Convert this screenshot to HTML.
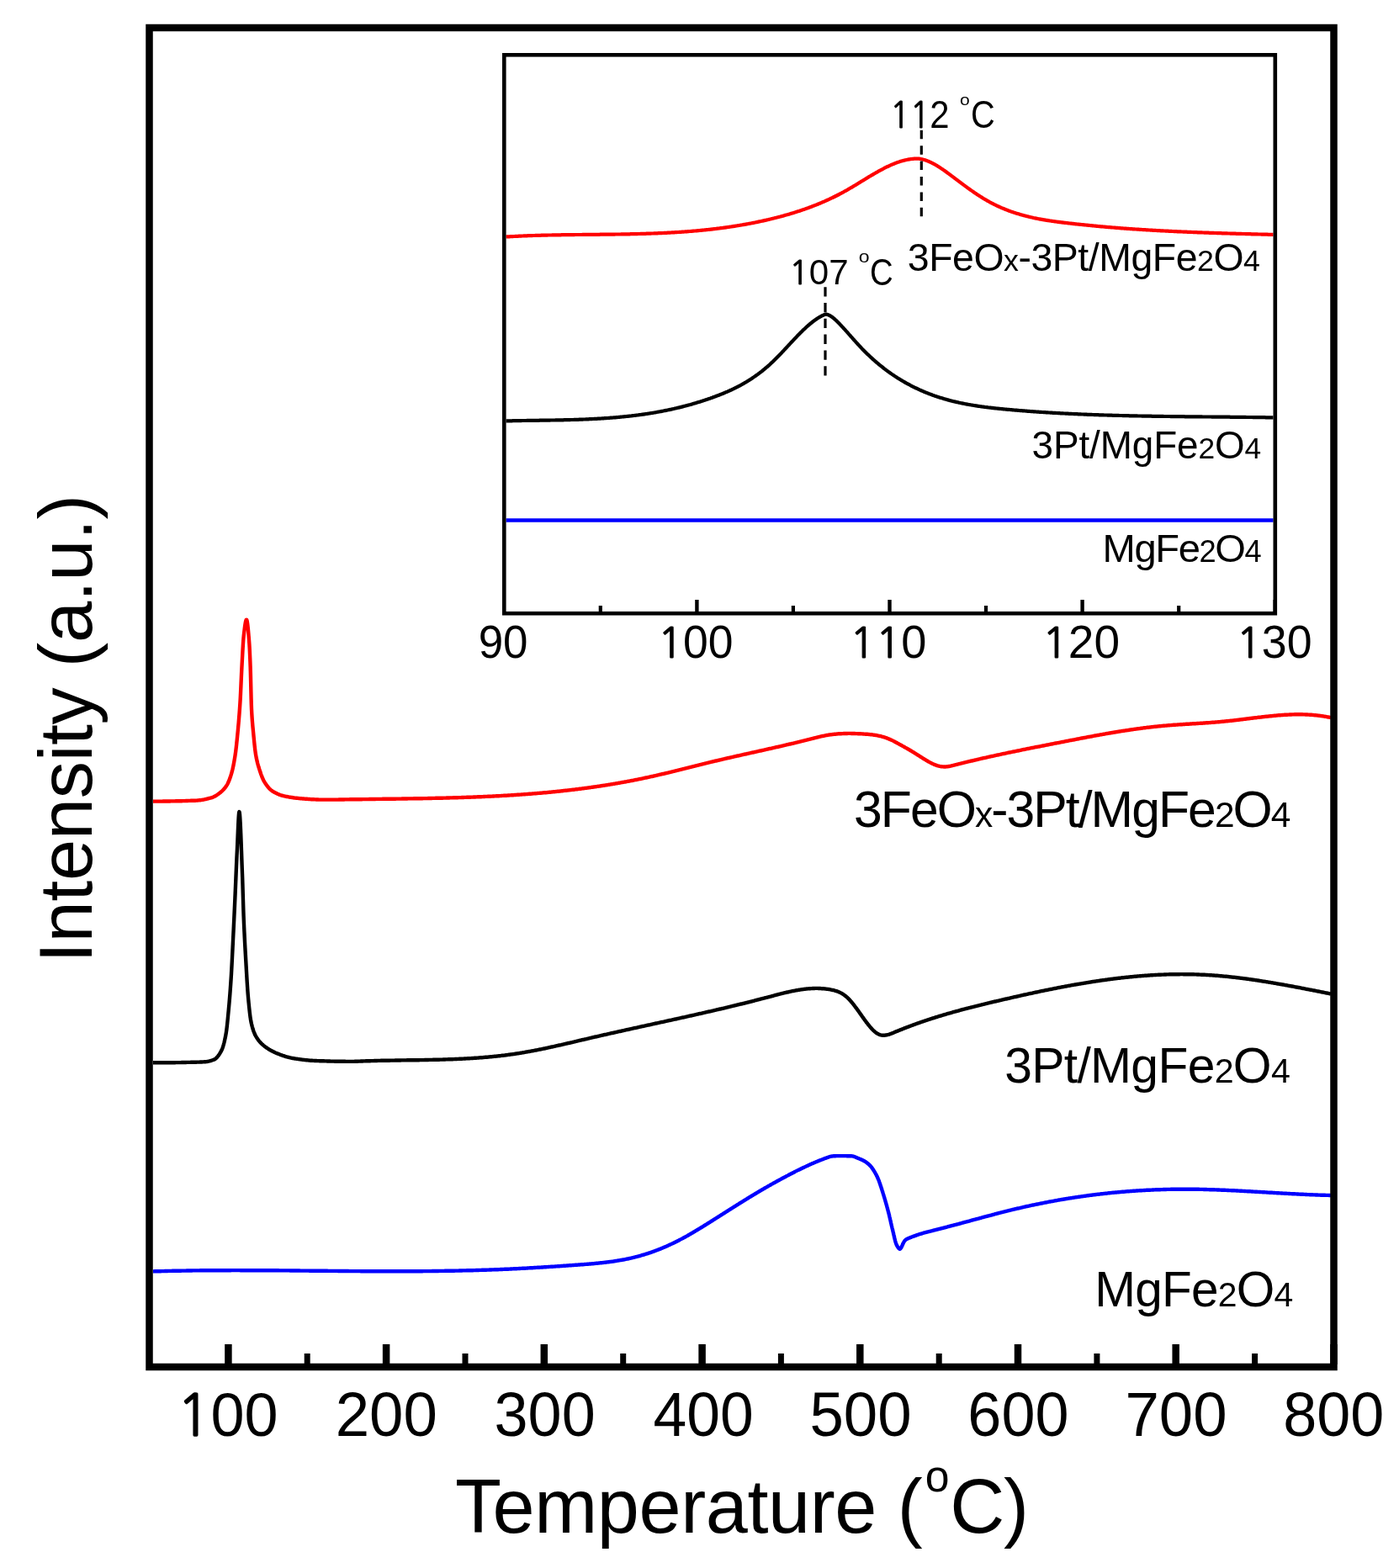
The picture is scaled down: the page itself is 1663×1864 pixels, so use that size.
<!DOCTYPE html>
<html><head><meta charset="utf-8"><title>H2-TPR profiles</title>
<style>html,body{margin:0;padding:0;background:#fff;overflow:hidden;}svg{display:block;}</style>
</head><body>
<svg width="1663" height="1864" viewBox="0 0 1663 1864" font-family="Liberation Sans, Arial, sans-serif">
<rect width="100%" height="100%" fill="#fff"/>
<path d="M182.0,952.6 L183.0,952.6 L184.0,952.6 L185.0,952.6 L186.0,952.6 L187.0,952.6 L188.0,952.6 L189.0,952.6 L190.0,952.6 L191.0,952.6 L192.0,952.6 L193.0,952.6 L194.0,952.5 L195.0,952.5 L196.0,952.5 L197.0,952.5 L198.0,952.5 L199.0,952.5 L200.0,952.5 L201.0,952.5 L202.0,952.5 L203.0,952.4 L204.0,952.4 L205.0,952.4 L206.0,952.4 L207.0,952.4 L208.0,952.4 L209.0,952.3 L210.0,952.3 L211.0,952.3 L212.0,952.3 L213.0,952.2 L214.0,952.2 L215.0,952.2 L216.0,952.2 L217.0,952.1 L218.0,952.1 L219.0,952.1 L220.0,952.1 L221.0,952.0 L222.0,952.0 L223.0,952.0 L224.0,951.9 L225.0,951.9 L226.0,951.9 L227.0,951.8 L228.0,951.8 L229.0,951.8 L230.0,951.7 L231.0,951.7 L232.0,951.7 L233.0,951.6 L234.0,951.6 L235.0,951.5 L236.0,951.4 L237.0,951.3 L238.0,951.2 L239.0,951.1 L240.0,950.9 L241.0,950.8 L242.0,950.6 L243.0,950.4 L244.0,950.2 L245.0,950.0 L246.0,949.7 L247.0,949.5 L248.0,949.2 L249.0,948.9 L250.0,948.7 L251.0,948.4 L252.0,948.1 L253.0,947.7 L254.0,947.3 L255.0,946.8 L256.0,946.3 L257.0,945.7 L258.0,945.0 L259.0,944.3 L260.0,943.6 L261.0,942.8 L262.0,942.1 L263.0,941.2 L264.0,940.3 L265.0,939.3 L266.0,938.2 L267.0,937.1 L268.0,935.8 L269.0,934.4 L270.0,932.8 L270.2,932.4 L270.4,932.1 L270.6,931.7 L270.8,931.3 L271.0,930.9 L271.2,930.5 L271.4,930.0 L271.6,929.6 L271.8,929.1 L272.0,928.6 L272.2,928.1 L272.4,927.6 L272.6,927.1 L272.8,926.6 L273.0,926.1 L273.2,925.5 L273.4,924.9 L273.6,924.4 L273.8,923.8 L274.0,923.2 L274.2,922.6 L274.4,921.9 L274.6,921.3 L274.8,920.7 L275.0,920.0 L275.2,919.3 L275.4,918.7 L275.6,917.9 L275.8,917.2 L276.0,916.4 L276.2,915.6 L276.4,914.8 L276.6,913.9 L276.8,913.0 L277.0,912.1 L277.2,911.2 L277.4,910.2 L277.6,909.2 L277.8,908.1 L278.0,907.1 L278.2,906.0 L278.4,904.8 L278.6,903.7 L278.8,902.5 L279.0,901.3 L279.2,900.1 L279.4,898.8 L279.6,897.5 L279.8,896.1 L280.0,894.7 L280.2,893.2 L280.4,891.6 L280.6,889.9 L280.8,888.2 L281.0,886.4 L281.2,884.5 L281.4,882.6 L281.6,880.7 L281.8,878.7 L282.0,876.7 L282.2,874.6 L282.4,872.5 L282.6,870.5 L282.8,868.4 L283.0,866.2 L283.2,864.0 L283.4,861.8 L283.6,859.6 L283.8,857.2 L284.0,854.8 L284.2,852.3 L284.4,849.8 L284.6,847.1 L284.8,844.4 L285.0,841.5 L285.2,838.6 L285.4,835.5 L285.6,832.1 L285.8,828.4 L286.0,824.3 L286.2,820.0 L286.4,815.5 L286.6,811.0 L286.8,806.5 L287.0,802.1 L287.2,797.9 L287.4,793.9 L287.6,790.2 L287.8,786.4 L288.0,782.6 L288.2,778.8 L288.4,775.0 L288.6,771.4 L288.8,768.0 L289.0,764.7 L289.2,761.8 L289.4,759.2 L289.6,757.0 L289.8,755.1 L290.0,753.3 L290.2,751.6 L290.4,749.9 L290.6,748.2 L290.8,746.6 L291.0,745.1 L291.2,743.6 L291.4,742.3 L291.6,741.1 L291.8,740.0 L292.0,739.0 L292.2,738.2 L292.4,737.5 L292.6,737.0 L292.8,736.7 L293.0,736.6 L293.2,736.7 L293.4,737.2 L293.6,737.9 L293.8,738.8 L294.0,740.0 L294.2,741.4 L294.4,743.0 L294.6,744.8 L294.8,746.7 L295.0,748.8 L295.2,751.0 L295.4,753.2 L295.6,755.6 L295.8,758.0 L296.0,760.5 L296.2,763.0 L296.4,765.8 L296.6,769.1 L296.8,773.0 L297.0,777.3 L297.2,781.9 L297.4,786.8 L297.6,792.0 L297.8,798.2 L298.0,805.8 L298.2,814.2 L298.4,822.7 L298.6,830.7 L298.8,837.6 L299.0,842.7 L299.2,846.5 L299.4,849.9 L299.6,853.0 L299.8,855.8 L300.0,858.4 L300.2,860.8 L300.4,863.1 L300.6,865.2 L300.8,867.3 L301.0,869.4 L301.2,871.5 L301.4,873.6 L301.6,875.8 L301.8,877.9 L302.0,879.9 L302.2,882.0 L302.4,883.9 L302.6,885.9 L302.8,887.7 L303.0,889.5 L303.2,891.2 L303.4,892.8 L303.6,894.3 L303.8,895.6 L304.0,896.9 L304.2,898.1 L304.4,899.2 L304.6,900.2 L304.8,901.2 L305.0,902.2 L305.2,903.1 L305.4,904.0 L305.6,904.9 L305.8,905.7 L306.0,906.6 L306.2,907.3 L306.4,908.1 L306.6,908.8 L306.8,909.6 L307.0,910.3 L307.2,910.9 L307.4,911.6 L307.6,912.3 L307.8,912.9 L308.0,913.5 L308.2,914.2 L308.4,914.8 L308.6,915.4 L308.8,916.0 L309.0,916.6 L309.2,917.3 L309.4,917.9 L309.6,918.4 L309.8,919.0 L310.0,919.6 L310.2,920.2 L310.4,920.7 L310.6,921.3 L310.8,921.8 L311.0,922.4 L311.2,922.9 L311.4,923.4 L311.6,923.9 L311.8,924.4 L312.0,924.9 L312.2,925.3 L312.4,925.8 L312.6,926.2 L312.8,926.7 L313.0,927.1 L313.2,927.5 L313.4,927.9 L313.6,928.3 L313.8,928.6 L314.0,929.0 L314.2,929.3 L314.4,929.6 L314.6,929.9 L314.8,930.3 L315.0,930.6 L315.2,930.9 L315.4,931.2 L315.6,931.5 L315.8,931.8 L316.0,932.1 L316.2,932.4 L316.4,932.7 L316.6,932.9 L316.8,933.2 L317.0,933.5 L317.2,933.8 L317.4,934.0 L317.6,934.3 L317.8,934.6 L318.0,934.8 L318.2,935.1 L318.4,935.3 L318.6,935.6 L318.8,935.8 L319.0,936.0 L319.2,936.3 L319.4,936.5 L319.6,936.7 L319.8,936.9 L320.0,937.2 L321.0,938.2 L322.0,939.1 L323.0,939.9 L324.0,940.6 L325.0,941.2 L326.0,941.8 L327.0,942.3 L328.0,942.8 L329.0,943.3 L330.0,943.8 L331.0,944.2 L332.0,944.6 L333.0,945.0 L334.0,945.3 L335.0,945.6 L336.0,945.9 L337.0,946.2 L338.0,946.4 L339.0,946.6 L340.0,946.8 L341.0,947.0 L342.0,947.2 L343.0,947.4 L344.0,947.6 L345.0,947.7 L346.0,947.9 L347.0,948.0 L348.0,948.2 L349.0,948.3 L350.0,948.5 L351.0,948.6 L352.0,948.7 L353.0,948.8 L354.0,948.9 L355.0,949.0 L356.0,949.1 L357.0,949.2 L358.0,949.3 L359.0,949.4 L360.0,949.5 L361.0,949.5 L362.0,949.6 L363.0,949.7 L364.0,949.8 L365.0,949.8 L366.0,949.9 L367.0,950.0 L368.0,950.0 L369.0,950.1 L370.0,950.2 L371.0,950.2 L372.0,950.3 L373.0,950.3 L374.0,950.4 L375.0,950.4 L376.0,950.5 L377.0,950.5 L378.0,950.5 L379.0,950.6 L380.0,950.6 L381.0,950.6 L382.0,950.6 L383.0,950.6 L384.0,950.6 L385.0,950.6 L386.0,950.6 L387.0,950.6 L388.0,950.6 L389.0,950.6 L390.0,950.6 L391.0,950.6 L392.0,950.6 L393.0,950.6 L394.0,950.6 L395.0,950.6 L396.0,950.6 L397.0,950.6 L398.0,950.6 L399.0,950.6 L400.0,950.6 L401.0,950.6 L402.0,950.6 L403.0,950.5 L404.0,950.5 L405.0,950.5 L406.0,950.5 L407.0,950.5 L408.0,950.5 L409.0,950.5 L410.0,950.4 L411.0,950.4 L412.0,950.4 L413.0,950.4 L414.0,950.4 L415.0,950.4 L416.0,950.3 L417.0,950.3 L418.0,950.3 L419.0,950.3 L420.0,950.3 L421.0,950.3 L422.0,950.3 L423.0,950.3 L424.0,950.2 L425.0,950.2 L426.0,950.2 L427.0,950.2 L428.0,950.2 L429.0,950.2 L430.0,950.2 L431.0,950.1 L432.0,950.1 L433.0,950.1 L434.0,950.1 L435.0,950.1 L436.0,950.1 L437.0,950.1 L438.0,950.1 L439.0,950.0 L440.0,950.0 L441.0,950.0 L442.0,950.0 L443.0,950.0 L444.0,950.0 L445.0,950.0 L446.0,950.0 L447.0,949.9 L448.0,949.9 L449.0,949.9 L450.0,949.9 L451.0,949.9 L452.0,949.9 L453.0,949.9 L454.0,949.9 L455.0,949.8 L456.0,949.8 L457.0,949.8 L458.0,949.8 L459.0,949.8 L460.0,949.8 L461.0,949.8 L462.0,949.8 L463.0,949.7 L464.0,949.7 L465.0,949.7 L466.0,949.7 L467.0,949.7 L468.0,949.7 L469.0,949.7 L470.0,949.7 L471.0,949.6 L472.0,949.6 L473.0,949.6 L474.0,949.6 L475.0,949.6 L476.0,949.6 L477.0,949.6 L478.0,949.5 L479.0,949.5 L480.0,949.5 L481.0,949.5 L482.0,949.5 L483.0,949.5 L484.0,949.5 L485.0,949.4 L486.0,949.4 L487.0,949.4 L488.0,949.4 L489.0,949.4 L490.0,949.4 L491.0,949.4 L492.0,949.3 L493.0,949.3 L494.0,949.3 L495.0,949.3 L496.0,949.3 L497.0,949.3 L498.0,949.2 L499.0,949.2 L500.0,949.2 L501.0,949.2 L502.0,949.2 L503.0,949.1 L504.0,949.1 L505.0,949.1 L506.0,949.1 L507.0,949.1 L508.0,949.1 L509.0,949.0 L510.0,949.0 L511.0,949.0 L512.0,949.0 L513.0,949.0 L514.0,948.9 L515.0,948.9 L516.0,948.9 L517.0,948.9 L518.0,948.8 L519.0,948.8 L520.0,948.8 L521.0,948.8 L522.0,948.8 L523.0,948.7 L524.0,948.7 L525.0,948.7 L526.0,948.7 L527.0,948.6 L528.0,948.6 L529.0,948.6 L530.0,948.6 L531.0,948.5 L532.0,948.5 L533.0,948.5 L534.0,948.5 L535.0,948.4 L536.0,948.4 L537.0,948.4 L538.0,948.4 L539.0,948.3 L540.0,948.3 L541.0,948.3 L542.0,948.2 L543.0,948.2 L544.0,948.2 L545.0,948.1 L546.0,948.1 L547.0,948.1 L548.0,948.1 L549.0,948.0 L550.0,948.0 L551.0,948.0 L552.0,947.9 L553.0,947.9 L554.0,947.9 L555.0,947.8 L556.0,947.8 L557.0,947.8 L558.0,947.7 L559.0,947.7 L560.0,947.6 L561.0,947.6 L562.0,947.6 L563.0,947.5 L564.0,947.5 L565.0,947.5 L566.0,947.4 L567.0,947.4 L568.0,947.3 L569.0,947.3 L570.0,947.3 L571.0,947.2 L572.0,947.2 L573.0,947.1 L574.0,947.1 L575.0,947.0 L576.0,947.0 L577.0,946.9 L578.0,946.9 L579.0,946.9 L580.0,946.8 L581.0,946.8 L582.0,946.7 L583.0,946.7 L584.0,946.6 L585.0,946.6 L586.0,946.5 L587.0,946.5 L588.0,946.4 L589.0,946.4 L590.0,946.3 L591.0,946.3 L592.0,946.2 L593.0,946.2 L594.0,946.1 L595.0,946.1 L596.0,946.0 L597.0,945.9 L598.0,945.9 L599.0,945.8 L600.0,945.8 L601.0,945.7 L602.0,945.7 L603.0,945.6 L604.0,945.5 L605.0,945.5 L606.0,945.4 L607.0,945.4 L608.0,945.3 L609.0,945.2 L610.0,945.2 L611.0,945.1 L612.0,945.0 L613.0,945.0 L614.0,944.9 L615.0,944.8 L616.0,944.8 L617.0,944.7 L618.0,944.6 L619.0,944.6 L620.0,944.5 L621.0,944.4 L622.0,944.4 L623.0,944.3 L624.0,944.2 L625.0,944.1 L626.0,944.1 L627.0,944.0 L628.0,943.9 L629.0,943.8 L630.0,943.8 L631.0,943.7 L632.0,943.6 L633.0,943.5 L634.0,943.4 L635.0,943.4 L636.0,943.3 L637.0,943.2 L638.0,943.1 L639.0,943.0 L640.0,942.9 L641.0,942.9 L642.0,942.8 L643.0,942.7 L644.0,942.6 L645.0,942.5 L646.0,942.4 L647.0,942.3 L648.0,942.2 L649.0,942.2 L650.0,942.1 L651.0,942.0 L652.0,941.9 L653.0,941.8 L654.0,941.7 L655.0,941.6 L656.0,941.5 L657.0,941.4 L658.0,941.3 L659.0,941.2 L660.0,941.1 L661.0,941.0 L662.0,940.9 L663.0,940.8 L664.0,940.7 L665.0,940.6 L666.0,940.5 L667.0,940.4 L668.0,940.3 L669.0,940.2 L670.0,940.0 L671.0,939.9 L672.0,939.8 L673.0,939.7 L674.0,939.6 L675.0,939.5 L676.0,939.4 L677.0,939.3 L678.0,939.1 L679.0,939.0 L680.0,938.9 L681.0,938.8 L682.0,938.7 L683.0,938.6 L684.0,938.4 L685.0,938.3 L686.0,938.2 L687.0,938.1 L688.0,937.9 L689.0,937.8 L690.0,937.7 L691.0,937.6 L692.0,937.4 L693.0,937.3 L694.0,937.2 L695.0,937.0 L696.0,936.9 L697.0,936.8 L698.0,936.6 L699.0,936.5 L700.0,936.4 L701.0,936.2 L702.0,936.1 L703.0,935.9 L704.0,935.8 L705.0,935.7 L706.0,935.5 L707.0,935.4 L708.0,935.2 L709.0,935.1 L710.0,934.9 L711.0,934.8 L712.0,934.6 L713.0,934.5 L714.0,934.3 L715.0,934.2 L716.0,934.0 L717.0,933.9 L718.0,933.7 L719.0,933.6 L720.0,933.4 L721.0,933.3 L722.0,933.1 L723.0,932.9 L724.0,932.8 L725.0,932.6 L726.0,932.4 L727.0,932.3 L728.0,932.1 L729.0,931.9 L730.0,931.8 L731.0,931.6 L732.0,931.4 L733.0,931.3 L734.0,931.1 L735.0,930.9 L736.0,930.7 L737.0,930.6 L738.0,930.4 L739.0,930.2 L740.0,930.0 L741.0,929.9 L742.0,929.7 L743.0,929.5 L744.0,929.3 L745.0,929.1 L746.0,928.9 L747.0,928.7 L748.0,928.6 L749.0,928.4 L750.0,928.2 L751.0,928.0 L752.0,927.8 L753.0,927.6 L754.0,927.4 L755.0,927.2 L756.0,927.0 L757.0,926.8 L758.0,926.6 L759.0,926.4 L760.0,926.2 L761.0,926.0 L762.0,925.8 L763.0,925.6 L764.0,925.4 L765.0,925.2 L766.0,924.9 L767.0,924.7 L768.0,924.5 L769.0,924.3 L770.0,924.1 L771.0,923.9 L772.0,923.7 L773.0,923.4 L774.0,923.2 L775.0,923.0 L776.0,922.8 L777.0,922.5 L778.0,922.3 L779.0,922.1 L780.0,921.9 L781.0,921.6 L782.0,921.4 L783.0,921.2 L784.0,920.9 L785.0,920.7 L786.0,920.5 L787.0,920.2 L788.0,920.0 L789.0,919.8 L790.0,919.5 L791.0,919.3 L792.0,919.0 L793.0,918.8 L794.0,918.6 L795.0,918.3 L796.0,918.1 L797.0,917.8 L798.0,917.6 L799.0,917.3 L800.0,917.1 L801.0,916.9 L802.0,916.6 L803.0,916.4 L804.0,916.1 L805.0,915.9 L806.0,915.6 L807.0,915.4 L808.0,915.1 L809.0,914.9 L810.0,914.6 L811.0,914.4 L812.0,914.1 L813.0,913.9 L814.0,913.6 L815.0,913.4 L816.0,913.1 L817.0,912.9 L818.0,912.6 L819.0,912.4 L820.0,912.1 L821.0,911.9 L822.0,911.6 L823.0,911.4 L824.0,911.1 L825.0,910.9 L826.0,910.6 L827.0,910.4 L828.0,910.1 L829.0,909.9 L830.0,909.6 L831.0,909.4 L832.0,909.1 L833.0,908.9 L834.0,908.6 L835.0,908.4 L836.0,908.1 L837.0,907.9 L838.0,907.6 L839.0,907.4 L840.0,907.2 L841.0,906.9 L842.0,906.7 L843.0,906.4 L844.0,906.2 L845.0,905.9 L846.0,905.7 L847.0,905.5 L848.0,905.2 L849.0,905.0 L850.0,904.7 L851.0,904.5 L852.0,904.3 L853.0,904.0 L854.0,903.8 L855.0,903.5 L856.0,903.3 L857.0,903.1 L858.0,902.8 L859.0,902.6 L860.0,902.4 L861.0,902.2 L862.0,901.9 L863.0,901.7 L864.0,901.5 L865.0,901.2 L866.0,901.0 L867.0,900.8 L868.0,900.5 L869.0,900.3 L870.0,900.1 L871.0,899.9 L872.0,899.6 L873.0,899.4 L874.0,899.2 L875.0,899.0 L876.0,898.7 L877.0,898.5 L878.0,898.3 L879.0,898.1 L880.0,897.8 L881.0,897.6 L882.0,897.4 L883.0,897.2 L884.0,896.9 L885.0,896.7 L886.0,896.5 L887.0,896.3 L888.0,896.0 L889.0,895.8 L890.0,895.6 L891.0,895.4 L892.0,895.2 L893.0,894.9 L894.0,894.7 L895.0,894.5 L896.0,894.3 L897.0,894.0 L898.0,893.8 L899.0,893.6 L900.0,893.4 L901.0,893.2 L902.0,892.9 L903.0,892.7 L904.0,892.5 L905.0,892.3 L906.0,892.0 L907.0,891.8 L908.0,891.6 L909.0,891.4 L910.0,891.1 L911.0,890.9 L912.0,890.7 L913.0,890.5 L914.0,890.2 L915.0,890.0 L916.0,889.8 L917.0,889.6 L918.0,889.3 L919.0,889.1 L920.0,888.9 L921.0,888.7 L922.0,888.4 L923.0,888.2 L924.0,888.0 L925.0,887.8 L926.0,887.5 L927.0,887.3 L928.0,887.1 L929.0,886.8 L930.0,886.6 L931.0,886.4 L932.0,886.1 L933.0,885.9 L934.0,885.7 L935.0,885.4 L936.0,885.2 L937.0,885.0 L938.0,884.7 L939.0,884.5 L940.0,884.3 L941.0,884.0 L942.0,883.8 L943.0,883.6 L944.0,883.3 L945.0,883.1 L946.0,882.8 L947.0,882.6 L948.0,882.4 L949.0,882.1 L950.0,881.9 L951.0,881.6 L952.0,881.4 L953.0,881.1 L954.0,880.9 L955.0,880.6 L956.0,880.4 L957.0,880.1 L958.0,879.9 L959.0,879.6 L960.0,879.4 L961.0,879.1 L962.0,878.9 L963.0,878.6 L964.0,878.4 L965.0,878.1 L966.0,877.9 L967.0,877.6 L968.0,877.3 L969.0,877.1 L970.0,876.9 L971.0,876.6 L972.0,876.4 L973.0,876.1 L974.0,875.9 L975.0,875.7 L976.0,875.4 L977.0,875.2 L978.0,875.0 L979.0,874.8 L980.0,874.6 L981.0,874.4 L982.0,874.2 L983.0,874.0 L984.0,873.9 L985.0,873.7 L986.0,873.5 L987.0,873.4 L988.0,873.3 L989.0,873.1 L990.0,873.0 L991.0,872.9 L992.0,872.8 L993.0,872.7 L994.0,872.6 L995.0,872.5 L996.0,872.4 L997.0,872.3 L998.0,872.3 L999.0,872.2 L1000.0,872.2 L1001.0,872.1 L1002.0,872.1 L1003.0,872.0 L1004.0,872.0 L1005.0,872.0 L1006.0,872.0 L1007.0,872.0 L1008.0,871.9 L1009.0,871.9 L1010.0,871.9 L1011.0,871.9 L1012.0,872.0 L1013.0,872.0 L1014.0,872.0 L1015.0,872.0 L1016.0,872.0 L1017.0,872.1 L1018.0,872.1 L1019.0,872.1 L1020.0,872.2 L1021.0,872.2 L1022.0,872.3 L1023.0,872.3 L1024.0,872.4 L1025.0,872.4 L1026.0,872.5 L1027.0,872.6 L1028.0,872.6 L1029.0,872.7 L1030.0,872.8 L1031.0,872.8 L1032.0,872.9 L1033.0,873.0 L1034.0,873.1 L1035.0,873.2 L1036.0,873.3 L1037.0,873.4 L1038.0,873.6 L1039.0,873.7 L1040.0,873.9 L1041.0,874.0 L1042.0,874.2 L1043.0,874.4 L1044.0,874.6 L1045.0,874.8 L1046.0,875.0 L1047.0,875.2 L1048.0,875.5 L1049.0,875.8 L1050.0,876.0 L1051.0,876.3 L1052.0,876.7 L1053.0,877.0 L1054.0,877.4 L1055.0,877.8 L1056.0,878.2 L1057.0,878.6 L1058.0,879.0 L1059.0,879.5 L1060.0,879.9 L1061.0,880.4 L1062.0,880.9 L1063.0,881.4 L1064.0,882.0 L1065.0,882.5 L1066.0,883.0 L1067.0,883.6 L1068.0,884.1 L1069.0,884.7 L1070.0,885.2 L1071.0,885.8 L1072.0,886.3 L1073.0,886.9 L1074.0,887.4 L1075.0,888.0 L1076.0,888.6 L1077.0,889.1 L1078.0,889.7 L1079.0,890.3 L1080.0,890.8 L1081.0,891.4 L1082.0,892.0 L1083.0,892.6 L1084.0,893.2 L1085.0,893.8 L1086.0,894.4 L1087.0,895.0 L1088.0,895.7 L1089.0,896.3 L1090.0,896.9 L1091.0,897.6 L1092.0,898.2 L1093.0,898.8 L1094.0,899.5 L1095.0,900.1 L1096.0,900.7 L1097.0,901.4 L1098.0,902.0 L1099.0,902.6 L1100.0,903.2 L1101.0,903.8 L1102.0,904.4 L1103.0,905.0 L1104.0,905.6 L1105.0,906.1 L1106.0,906.6 L1107.0,907.2 L1108.0,907.6 L1109.0,908.1 L1110.0,908.6 L1111.0,909.0 L1112.0,909.4 L1113.0,909.7 L1114.0,910.1 L1115.0,910.4 L1116.0,910.6 L1117.0,910.9 L1118.0,911.1 L1119.0,911.2 L1120.0,911.4 L1121.0,911.4 L1122.0,911.5 L1123.0,911.5 L1124.0,911.5 L1125.0,911.4 L1126.0,911.3 L1127.0,911.2 L1128.0,911.0 L1129.0,910.8 L1130.0,910.6 L1131.0,910.4 L1132.0,910.1 L1133.0,909.9 L1134.0,909.6 L1135.0,909.4 L1136.0,909.1 L1137.0,908.9 L1138.0,908.6 L1139.0,908.4 L1140.0,908.1 L1141.0,907.9 L1142.0,907.6 L1143.0,907.4 L1144.0,907.1 L1145.0,906.9 L1146.0,906.6 L1147.0,906.4 L1148.0,906.2 L1149.0,905.9 L1150.0,905.7 L1151.0,905.4 L1152.0,905.2 L1153.0,905.0 L1154.0,904.7 L1155.0,904.5 L1156.0,904.3 L1157.0,904.0 L1158.0,903.8 L1159.0,903.5 L1160.0,903.3 L1161.0,903.1 L1162.0,902.8 L1163.0,902.6 L1164.0,902.4 L1165.0,902.2 L1166.0,901.9 L1167.0,901.7 L1168.0,901.5 L1169.0,901.2 L1170.0,901.0 L1171.0,900.8 L1172.0,900.6 L1173.0,900.3 L1174.0,900.1 L1175.0,899.9 L1176.0,899.7 L1177.0,899.5 L1178.0,899.2 L1179.0,899.0 L1180.0,898.8 L1181.0,898.6 L1182.0,898.4 L1183.0,898.1 L1184.0,897.9 L1185.0,897.7 L1186.0,897.5 L1187.0,897.3 L1188.0,897.1 L1189.0,896.9 L1190.0,896.6 L1191.0,896.4 L1192.0,896.2 L1193.0,896.0 L1194.0,895.8 L1195.0,895.6 L1196.0,895.4 L1197.0,895.2 L1198.0,894.9 L1199.0,894.7 L1200.0,894.5 L1201.0,894.3 L1202.0,894.1 L1203.0,893.9 L1204.0,893.7 L1205.0,893.5 L1206.0,893.3 L1207.0,893.1 L1208.0,892.9 L1209.0,892.7 L1210.0,892.5 L1211.0,892.3 L1212.0,892.1 L1213.0,891.9 L1214.0,891.6 L1215.0,891.4 L1216.0,891.2 L1217.0,891.0 L1218.0,890.8 L1219.0,890.6 L1220.0,890.4 L1221.0,890.2 L1222.0,890.0 L1223.0,889.8 L1224.0,889.6 L1225.0,889.4 L1226.0,889.2 L1227.0,889.0 L1228.0,888.8 L1229.0,888.6 L1230.0,888.4 L1231.0,888.2 L1232.0,888.0 L1233.0,887.8 L1234.0,887.6 L1235.0,887.5 L1236.0,887.3 L1237.0,887.1 L1238.0,886.9 L1239.0,886.7 L1240.0,886.5 L1241.0,886.3 L1242.0,886.1 L1243.0,885.9 L1244.0,885.7 L1245.0,885.5 L1246.0,885.3 L1247.0,885.1 L1248.0,884.9 L1249.0,884.7 L1250.0,884.5 L1251.0,884.3 L1252.0,884.1 L1253.0,883.9 L1254.0,883.7 L1255.0,883.5 L1256.0,883.3 L1257.0,883.1 L1258.0,883.0 L1259.0,882.8 L1260.0,882.6 L1261.0,882.4 L1262.0,882.2 L1263.0,882.0 L1264.0,881.8 L1265.0,881.6 L1266.0,881.4 L1267.0,881.2 L1268.0,881.0 L1269.0,880.8 L1270.0,880.6 L1271.0,880.4 L1272.0,880.2 L1273.0,880.0 L1274.0,879.8 L1275.0,879.6 L1276.0,879.5 L1277.0,879.3 L1278.0,879.1 L1279.0,878.9 L1280.0,878.7 L1281.0,878.5 L1282.0,878.3 L1283.0,878.1 L1284.0,877.9 L1285.0,877.7 L1286.0,877.5 L1287.0,877.3 L1288.0,877.2 L1289.0,877.0 L1290.0,876.8 L1291.0,876.6 L1292.0,876.4 L1293.0,876.2 L1294.0,876.0 L1295.0,875.8 L1296.0,875.6 L1297.0,875.5 L1298.0,875.3 L1299.0,875.1 L1300.0,874.9 L1301.0,874.7 L1302.0,874.5 L1303.0,874.4 L1304.0,874.2 L1305.0,874.0 L1306.0,873.8 L1307.0,873.6 L1308.0,873.4 L1309.0,873.3 L1310.0,873.1 L1311.0,872.9 L1312.0,872.7 L1313.0,872.6 L1314.0,872.4 L1315.0,872.2 L1316.0,872.0 L1317.0,871.9 L1318.0,871.7 L1319.0,871.5 L1320.0,871.3 L1321.0,871.2 L1322.0,871.0 L1323.0,870.8 L1324.0,870.7 L1325.0,870.5 L1326.0,870.3 L1327.0,870.2 L1328.0,870.0 L1329.0,869.8 L1330.0,869.7 L1331.0,869.5 L1332.0,869.4 L1333.0,869.2 L1334.0,869.0 L1335.0,868.9 L1336.0,868.7 L1337.0,868.6 L1338.0,868.4 L1339.0,868.3 L1340.0,868.1 L1341.0,868.0 L1342.0,867.8 L1343.0,867.7 L1344.0,867.5 L1345.0,867.4 L1346.0,867.2 L1347.0,867.1 L1348.0,866.9 L1349.0,866.8 L1350.0,866.6 L1351.0,866.5 L1352.0,866.4 L1353.0,866.2 L1354.0,866.1 L1355.0,866.0 L1356.0,865.8 L1357.0,865.7 L1358.0,865.6 L1359.0,865.4 L1360.0,865.3 L1361.0,865.2 L1362.0,865.1 L1363.0,864.9 L1364.0,864.8 L1365.0,864.7 L1366.0,864.6 L1367.0,864.5 L1368.0,864.4 L1369.0,864.2 L1370.0,864.1 L1371.0,864.0 L1372.0,863.9 L1373.0,863.8 L1374.0,863.7 L1375.0,863.6 L1376.0,863.5 L1377.0,863.4 L1378.0,863.3 L1379.0,863.2 L1380.0,863.1 L1381.0,863.0 L1382.0,862.9 L1383.0,862.8 L1384.0,862.7 L1385.0,862.6 L1386.0,862.6 L1387.0,862.5 L1388.0,862.4 L1389.0,862.3 L1390.0,862.2 L1391.0,862.1 L1392.0,862.1 L1393.0,862.0 L1394.0,861.9 L1395.0,861.8 L1396.0,861.8 L1397.0,861.7 L1398.0,861.6 L1399.0,861.6 L1400.0,861.5 L1401.0,861.4 L1402.0,861.4 L1403.0,861.3 L1404.0,861.2 L1405.0,861.2 L1406.0,861.1 L1407.0,861.0 L1408.0,861.0 L1409.0,860.9 L1410.0,860.8 L1411.0,860.8 L1412.0,860.7 L1413.0,860.7 L1414.0,860.6 L1415.0,860.5 L1416.0,860.5 L1417.0,860.4 L1418.0,860.3 L1419.0,860.3 L1420.0,860.2 L1421.0,860.2 L1422.0,860.1 L1423.0,860.0 L1424.0,860.0 L1425.0,859.9 L1426.0,859.9 L1427.0,859.8 L1428.0,859.7 L1429.0,859.7 L1430.0,859.6 L1431.0,859.5 L1432.0,859.5 L1433.0,859.4 L1434.0,859.3 L1435.0,859.3 L1436.0,859.2 L1437.0,859.1 L1438.0,859.1 L1439.0,859.0 L1440.0,858.9 L1441.0,858.8 L1442.0,858.8 L1443.0,858.7 L1444.0,858.6 L1445.0,858.5 L1446.0,858.4 L1447.0,858.4 L1448.0,858.3 L1449.0,858.2 L1450.0,858.1 L1451.0,858.0 L1452.0,857.9 L1453.0,857.8 L1454.0,857.7 L1455.0,857.6 L1456.0,857.5 L1457.0,857.4 L1458.0,857.3 L1459.0,857.2 L1460.0,857.1 L1461.0,857.0 L1462.0,856.9 L1463.0,856.8 L1464.0,856.7 L1465.0,856.6 L1466.0,856.5 L1467.0,856.4 L1468.0,856.2 L1469.0,856.1 L1470.0,856.0 L1471.0,855.9 L1472.0,855.8 L1473.0,855.7 L1474.0,855.5 L1475.0,855.4 L1476.0,855.3 L1477.0,855.2 L1478.0,855.0 L1479.0,854.9 L1480.0,854.8 L1481.0,854.7 L1482.0,854.5 L1483.0,854.4 L1484.0,854.3 L1485.0,854.2 L1486.0,854.0 L1487.0,853.9 L1488.0,853.8 L1489.0,853.7 L1490.0,853.5 L1491.0,853.4 L1492.0,853.3 L1493.0,853.2 L1494.0,853.1 L1495.0,852.9 L1496.0,852.8 L1497.0,852.7 L1498.0,852.6 L1499.0,852.5 L1500.0,852.3 L1501.0,852.2 L1502.0,852.1 L1503.0,852.0 L1504.0,851.9 L1505.0,851.8 L1506.0,851.7 L1507.0,851.6 L1508.0,851.5 L1509.0,851.4 L1510.0,851.3 L1511.0,851.2 L1512.0,851.1 L1513.0,851.0 L1514.0,850.9 L1515.0,850.8 L1516.0,850.7 L1517.0,850.6 L1518.0,850.5 L1519.0,850.4 L1520.0,850.3 L1521.0,850.3 L1522.0,850.2 L1523.0,850.1 L1524.0,850.0 L1525.0,850.0 L1526.0,849.9 L1527.0,849.8 L1528.0,849.8 L1529.0,849.7 L1530.0,849.7 L1531.0,849.6 L1532.0,849.6 L1533.0,849.5 L1534.0,849.5 L1535.0,849.5 L1536.0,849.4 L1537.0,849.4 L1538.0,849.4 L1539.0,849.3 L1540.0,849.3 L1541.0,849.3 L1542.0,849.3 L1543.0,849.3 L1544.0,849.3 L1545.0,849.3 L1546.0,849.3 L1547.0,849.3 L1548.0,849.3 L1549.0,849.4 L1550.0,849.4 L1551.0,849.4 L1552.0,849.5 L1553.0,849.5 L1554.0,849.5 L1555.0,849.6 L1556.0,849.6 L1557.0,849.7 L1558.0,849.8 L1559.0,849.8 L1560.0,849.9 L1561.0,850.0 L1562.0,850.1 L1563.0,850.2 L1564.0,850.3 L1565.0,850.4 L1566.0,850.5 L1567.0,850.6 L1568.0,850.7 L1569.0,850.9 L1570.0,851.0 L1571.0,851.1 L1572.0,851.3 L1573.0,851.4 L1574.0,851.6 L1575.0,851.8 L1576.0,851.9 L1577.0,852.1 L1578.0,852.3 L1579.0,852.5 L1580.0,852.7 L1581.0,852.9 L1582.0,853.1" fill="none" stroke="#ff0000" stroke-width="4.4" stroke-linejoin="round"/>
<path d="M182.0,1263.3 L183.0,1263.3 L184.0,1263.3 L185.0,1263.3 L186.0,1263.3 L187.0,1263.3 L188.0,1263.3 L189.0,1263.3 L190.0,1263.3 L191.0,1263.3 L192.0,1263.3 L193.0,1263.3 L194.0,1263.3 L195.0,1263.3 L196.0,1263.3 L197.0,1263.3 L198.0,1263.3 L199.0,1263.2 L200.0,1263.2 L201.0,1263.2 L202.0,1263.2 L203.0,1263.2 L204.0,1263.2 L205.0,1263.2 L206.0,1263.2 L207.0,1263.2 L208.0,1263.2 L209.0,1263.1 L210.0,1263.1 L211.0,1263.1 L212.0,1263.1 L213.0,1263.1 L214.0,1263.1 L215.0,1263.1 L216.0,1263.0 L217.0,1263.0 L218.0,1263.0 L219.0,1263.0 L220.0,1263.0 L221.0,1263.0 L222.0,1262.9 L223.0,1262.9 L224.0,1262.9 L225.0,1262.9 L226.0,1262.9 L227.0,1262.8 L228.0,1262.8 L229.0,1262.8 L230.0,1262.8 L231.0,1262.7 L232.0,1262.7 L233.0,1262.7 L234.0,1262.6 L235.0,1262.6 L236.0,1262.6 L237.0,1262.6 L238.0,1262.5 L239.0,1262.5 L240.0,1262.5 L241.0,1262.4 L242.0,1262.4 L243.0,1262.3 L244.0,1262.3 L245.0,1262.1 L246.0,1262.0 L247.0,1261.8 L248.0,1261.6 L249.0,1261.4 L250.0,1261.1 L251.0,1260.8 L252.0,1260.5 L253.0,1260.2 L254.0,1259.8 L255.0,1259.4 L256.0,1258.7 L257.0,1257.9 L258.0,1256.9 L259.0,1255.7 L260.0,1254.4 L261.0,1252.8 L262.0,1251.2 L262.2,1250.8 L262.4,1250.5 L262.6,1250.1 L262.8,1249.7 L263.0,1249.4 L263.2,1249.0 L263.4,1248.6 L263.6,1248.2 L263.8,1247.7 L264.0,1247.3 L264.2,1246.8 L264.4,1246.2 L264.6,1245.7 L264.8,1245.1 L265.0,1244.5 L265.2,1243.9 L265.4,1243.2 L265.6,1242.5 L265.8,1241.8 L266.0,1241.0 L266.2,1240.3 L266.4,1239.5 L266.6,1238.7 L266.8,1237.8 L267.0,1237.0 L267.2,1236.1 L267.4,1235.1 L267.6,1234.2 L267.8,1233.2 L268.0,1232.2 L268.2,1231.2 L268.4,1230.1 L268.6,1229.0 L268.8,1227.8 L269.0,1226.5 L269.2,1225.1 L269.4,1223.6 L269.6,1221.9 L269.8,1220.2 L270.0,1218.4 L270.2,1216.6 L270.4,1214.6 L270.6,1212.6 L270.8,1210.6 L271.0,1208.5 L271.2,1206.4 L271.4,1204.3 L271.6,1202.1 L271.8,1200.0 L272.0,1197.8 L272.2,1195.6 L272.4,1193.4 L272.6,1191.0 L272.8,1188.7 L273.0,1186.2 L273.2,1183.7 L273.4,1181.1 L273.6,1178.4 L273.8,1175.7 L274.0,1172.9 L274.2,1170.0 L274.4,1167.0 L274.6,1164.0 L274.8,1160.8 L275.0,1157.5 L275.2,1153.9 L275.4,1150.2 L275.6,1146.4 L275.8,1142.5 L276.0,1138.5 L276.2,1134.4 L276.4,1130.3 L276.6,1126.2 L276.8,1122.1 L277.0,1118.0 L277.2,1114.0 L277.4,1109.9 L277.6,1105.8 L277.8,1101.6 L278.0,1097.5 L278.2,1093.3 L278.4,1089.0 L278.6,1084.7 L278.8,1080.4 L279.0,1076.1 L279.2,1071.7 L279.4,1067.2 L279.6,1062.6 L279.8,1057.9 L280.0,1053.1 L280.2,1048.4 L280.4,1043.6 L280.6,1038.8 L280.8,1034.1 L281.0,1029.4 L281.2,1024.9 L281.4,1020.4 L281.6,1016.1 L281.8,1012.0 L282.0,1007.8 L282.2,1003.2 L282.4,998.5 L282.6,993.6 L282.8,988.8 L283.0,984.2 L283.2,979.8 L283.4,975.7 L283.6,972.2 L283.8,969.2 L284.0,966.9 L284.2,965.5 L284.4,965.0 L284.6,965.4 L284.8,966.5 L285.0,968.3 L285.2,970.8 L285.4,973.8 L285.6,977.3 L285.8,981.3 L286.0,985.6 L286.2,990.4 L286.4,995.3 L286.6,1000.6 L286.8,1005.9 L287.0,1011.4 L287.2,1017.0 L287.4,1022.5 L287.6,1028.0 L287.8,1033.3 L288.0,1038.5 L288.2,1044.0 L288.4,1050.1 L288.6,1056.7 L288.8,1063.5 L289.0,1070.4 L289.2,1077.0 L289.4,1083.3 L289.6,1089.0 L289.8,1094.0 L290.0,1098.7 L290.2,1103.2 L290.4,1107.5 L290.6,1111.7 L290.8,1115.7 L291.0,1119.6 L291.2,1123.4 L291.4,1127.1 L291.6,1130.7 L291.8,1134.2 L292.0,1137.7 L292.2,1141.2 L292.4,1144.7 L292.6,1148.2 L292.8,1151.7 L293.0,1155.2 L293.2,1158.7 L293.4,1162.1 L293.6,1165.5 L293.8,1168.7 L294.0,1171.9 L294.2,1174.9 L294.4,1177.8 L294.6,1180.5 L294.8,1183.1 L295.0,1185.4 L295.2,1187.6 L295.4,1189.8 L295.6,1191.9 L295.8,1193.9 L296.0,1195.9 L296.2,1197.9 L296.4,1199.8 L296.6,1201.6 L296.8,1203.4 L297.0,1205.1 L297.2,1206.7 L297.4,1208.2 L297.6,1209.7 L297.8,1211.0 L298.0,1212.3 L298.2,1213.5 L298.4,1214.5 L298.6,1215.5 L298.8,1216.4 L299.0,1217.3 L299.2,1218.1 L299.4,1218.9 L299.6,1219.7 L299.8,1220.5 L300.0,1221.2 L300.2,1221.9 L300.4,1222.6 L300.6,1223.3 L300.8,1223.9 L301.0,1224.5 L301.2,1225.1 L301.4,1225.7 L301.6,1226.3 L301.8,1226.8 L302.0,1227.3 L302.2,1227.8 L302.4,1228.3 L302.6,1228.8 L302.8,1229.2 L303.0,1229.7 L303.2,1230.1 L303.4,1230.5 L303.6,1230.9 L303.8,1231.2 L304.0,1231.6 L304.2,1231.9 L304.4,1232.3 L304.6,1232.6 L304.8,1232.9 L305.0,1233.3 L305.2,1233.6 L305.4,1233.9 L305.6,1234.2 L305.8,1234.5 L306.0,1234.8 L306.2,1235.1 L306.4,1235.4 L306.6,1235.7 L306.8,1235.9 L307.0,1236.2 L307.2,1236.5 L307.4,1236.7 L307.6,1237.0 L307.8,1237.3 L308.0,1237.5 L308.2,1237.8 L308.4,1238.0 L308.6,1238.2 L308.8,1238.5 L309.0,1238.7 L309.2,1238.9 L309.4,1239.1 L309.6,1239.4 L309.8,1239.6 L310.0,1239.8 L310.2,1240.0 L310.4,1240.2 L310.6,1240.4 L310.8,1240.6 L311.0,1240.8 L311.2,1241.0 L311.4,1241.2 L311.6,1241.4 L311.8,1241.5 L312.0,1241.7 L313.0,1242.6 L314.0,1243.4 L315.0,1244.2 L316.0,1244.9 L317.0,1245.6 L318.0,1246.3 L319.0,1247.0 L320.0,1247.6 L321.0,1248.2 L322.0,1248.8 L323.0,1249.3 L324.0,1249.8 L325.0,1250.3 L326.0,1250.8 L327.0,1251.3 L328.0,1251.7 L329.0,1252.1 L330.0,1252.5 L331.0,1252.9 L332.0,1253.3 L333.0,1253.7 L334.0,1254.1 L335.0,1254.4 L336.0,1254.8 L337.0,1255.1 L338.0,1255.4 L339.0,1255.8 L340.0,1256.1 L341.0,1256.4 L342.0,1256.6 L343.0,1256.9 L344.0,1257.2 L345.0,1257.4 L346.0,1257.6 L347.0,1257.8 L348.0,1258.0 L349.0,1258.2 L350.0,1258.3 L351.0,1258.5 L352.0,1258.6 L353.0,1258.8 L354.0,1258.9 L355.0,1259.1 L356.0,1259.2 L357.0,1259.4 L358.0,1259.5 L359.0,1259.6 L360.0,1259.8 L361.0,1259.9 L362.0,1260.0 L363.0,1260.1 L364.0,1260.2 L365.0,1260.3 L366.0,1260.4 L367.0,1260.5 L368.0,1260.6 L369.0,1260.7 L370.0,1260.8 L371.0,1260.8 L372.0,1260.9 L373.0,1260.9 L374.0,1261.0 L375.0,1261.0 L376.0,1261.0 L377.0,1261.1 L378.0,1261.1 L379.0,1261.1 L380.0,1261.2 L381.0,1261.2 L382.0,1261.2 L383.0,1261.3 L384.0,1261.3 L385.0,1261.3 L386.0,1261.4 L387.0,1261.4 L388.0,1261.4 L389.0,1261.5 L390.0,1261.5 L391.0,1261.5 L392.0,1261.5 L393.0,1261.6 L394.0,1261.6 L395.0,1261.6 L396.0,1261.6 L397.0,1261.6 L398.0,1261.7 L399.0,1261.7 L400.0,1261.7 L401.0,1261.7 L402.0,1261.7 L403.0,1261.8 L404.0,1261.8 L405.0,1261.8 L406.0,1261.8 L407.0,1261.8 L408.0,1261.8 L409.0,1261.8 L410.0,1261.8 L411.0,1261.9 L412.0,1261.9 L413.0,1261.9 L414.0,1261.9 L415.0,1261.9 L416.0,1261.9 L417.0,1261.9 L418.0,1261.9 L419.0,1261.9 L420.0,1261.9 L421.0,1261.9 L422.0,1261.8 L423.0,1261.8 L424.0,1261.7 L425.0,1261.7 L426.0,1261.6 L427.0,1261.6 L428.0,1261.6 L429.0,1261.5 L430.0,1261.5 L431.0,1261.5 L432.0,1261.4 L433.0,1261.4 L434.0,1261.4 L435.0,1261.3 L436.0,1261.3 L437.0,1261.3 L438.0,1261.2 L439.0,1261.2 L440.0,1261.2 L441.0,1261.1 L442.0,1261.1 L443.0,1261.1 L444.0,1261.1 L445.0,1261.0 L446.0,1261.0 L447.0,1261.0 L448.0,1261.0 L449.0,1260.9 L450.0,1260.9 L451.0,1260.9 L452.0,1260.9 L453.0,1260.8 L454.0,1260.8 L455.0,1260.8 L456.0,1260.8 L457.0,1260.8 L458.0,1260.7 L459.0,1260.7 L460.0,1260.7 L461.0,1260.7 L462.0,1260.7 L463.0,1260.7 L464.0,1260.6 L465.0,1260.6 L466.0,1260.6 L467.0,1260.6 L468.0,1260.6 L469.0,1260.6 L470.0,1260.5 L471.0,1260.5 L472.0,1260.5 L473.0,1260.5 L474.0,1260.5 L475.0,1260.5 L476.0,1260.5 L477.0,1260.4 L478.0,1260.4 L479.0,1260.4 L480.0,1260.4 L481.0,1260.4 L482.0,1260.4 L483.0,1260.4 L484.0,1260.3 L485.0,1260.3 L486.0,1260.3 L487.0,1260.3 L488.0,1260.3 L489.0,1260.3 L490.0,1260.3 L491.0,1260.3 L492.0,1260.2 L493.0,1260.2 L494.0,1260.2 L495.0,1260.2 L496.0,1260.2 L497.0,1260.2 L498.0,1260.2 L499.0,1260.1 L500.0,1260.1 L501.0,1260.1 L502.0,1260.1 L503.0,1260.1 L504.0,1260.1 L505.0,1260.0 L506.0,1260.0 L507.0,1260.0 L508.0,1260.0 L509.0,1260.0 L510.0,1259.9 L511.0,1259.9 L512.0,1259.9 L513.0,1259.9 L514.0,1259.9 L515.0,1259.8 L516.0,1259.8 L517.0,1259.8 L518.0,1259.8 L519.0,1259.7 L520.0,1259.7 L521.0,1259.7 L522.0,1259.7 L523.0,1259.6 L524.0,1259.6 L525.0,1259.6 L526.0,1259.6 L527.0,1259.5 L528.0,1259.5 L529.0,1259.5 L530.0,1259.4 L531.0,1259.4 L532.0,1259.4 L533.0,1259.3 L534.0,1259.3 L535.0,1259.3 L536.0,1259.2 L537.0,1259.2 L538.0,1259.2 L539.0,1259.1 L540.0,1259.1 L541.0,1259.0 L542.0,1259.0 L543.0,1259.0 L544.0,1258.9 L545.0,1258.9 L546.0,1258.8 L547.0,1258.8 L548.0,1258.7 L549.0,1258.7 L550.0,1258.6 L551.0,1258.6 L552.0,1258.5 L553.0,1258.5 L554.0,1258.4 L555.0,1258.4 L556.0,1258.3 L557.0,1258.3 L558.0,1258.2 L559.0,1258.1 L560.0,1258.1 L561.0,1258.0 L562.0,1258.0 L563.0,1257.9 L564.0,1257.8 L565.0,1257.8 L566.0,1257.7 L567.0,1257.6 L568.0,1257.6 L569.0,1257.5 L570.0,1257.4 L571.0,1257.3 L572.0,1257.3 L573.0,1257.2 L574.0,1257.1 L575.0,1257.0 L576.0,1256.9 L577.0,1256.8 L578.0,1256.8 L579.0,1256.7 L580.0,1256.6 L581.0,1256.5 L582.0,1256.4 L583.0,1256.3 L584.0,1256.2 L585.0,1256.1 L586.0,1256.0 L587.0,1255.9 L588.0,1255.8 L589.0,1255.7 L590.0,1255.6 L591.0,1255.5 L592.0,1255.4 L593.0,1255.3 L594.0,1255.2 L595.0,1255.1 L596.0,1254.9 L597.0,1254.8 L598.0,1254.7 L599.0,1254.6 L600.0,1254.5 L601.0,1254.3 L602.0,1254.2 L603.0,1254.1 L604.0,1253.9 L605.0,1253.8 L606.0,1253.7 L607.0,1253.5 L608.0,1253.4 L609.0,1253.3 L610.0,1253.1 L611.0,1253.0 L612.0,1252.8 L613.0,1252.7 L614.0,1252.5 L615.0,1252.4 L616.0,1252.2 L617.0,1252.1 L618.0,1251.9 L619.0,1251.7 L620.0,1251.6 L621.0,1251.4 L622.0,1251.2 L623.0,1251.1 L624.0,1250.9 L625.0,1250.7 L626.0,1250.5 L627.0,1250.4 L628.0,1250.2 L629.0,1250.0 L630.0,1249.8 L631.0,1249.6 L632.0,1249.4 L633.0,1249.3 L634.0,1249.1 L635.0,1248.9 L636.0,1248.7 L637.0,1248.5 L638.0,1248.3 L639.0,1248.1 L640.0,1247.9 L641.0,1247.7 L642.0,1247.5 L643.0,1247.3 L644.0,1247.1 L645.0,1246.9 L646.0,1246.7 L647.0,1246.5 L648.0,1246.3 L649.0,1246.0 L650.0,1245.8 L651.0,1245.6 L652.0,1245.4 L653.0,1245.2 L654.0,1245.0 L655.0,1244.7 L656.0,1244.5 L657.0,1244.3 L658.0,1244.1 L659.0,1243.9 L660.0,1243.6 L661.0,1243.4 L662.0,1243.2 L663.0,1243.0 L664.0,1242.7 L665.0,1242.5 L666.0,1242.3 L667.0,1242.1 L668.0,1241.8 L669.0,1241.6 L670.0,1241.4 L671.0,1241.1 L672.0,1240.9 L673.0,1240.7 L674.0,1240.5 L675.0,1240.2 L676.0,1240.0 L677.0,1239.8 L678.0,1239.5 L679.0,1239.3 L680.0,1239.1 L681.0,1238.8 L682.0,1238.6 L683.0,1238.4 L684.0,1238.1 L685.0,1237.9 L686.0,1237.6 L687.0,1237.4 L688.0,1237.2 L689.0,1236.9 L690.0,1236.7 L691.0,1236.5 L692.0,1236.2 L693.0,1236.0 L694.0,1235.8 L695.0,1235.5 L696.0,1235.3 L697.0,1235.1 L698.0,1234.8 L699.0,1234.6 L700.0,1234.4 L701.0,1234.1 L702.0,1233.9 L703.0,1233.7 L704.0,1233.4 L705.0,1233.2 L706.0,1233.0 L707.0,1232.7 L708.0,1232.5 L709.0,1232.3 L710.0,1232.1 L711.0,1231.8 L712.0,1231.6 L713.0,1231.4 L714.0,1231.1 L715.0,1230.9 L716.0,1230.7 L717.0,1230.5 L718.0,1230.2 L719.0,1230.0 L720.0,1229.8 L721.0,1229.6 L722.0,1229.3 L723.0,1229.1 L724.0,1228.9 L725.0,1228.7 L726.0,1228.4 L727.0,1228.2 L728.0,1228.0 L729.0,1227.8 L730.0,1227.5 L731.0,1227.3 L732.0,1227.1 L733.0,1226.9 L734.0,1226.6 L735.0,1226.4 L736.0,1226.2 L737.0,1226.0 L738.0,1225.8 L739.0,1225.5 L740.0,1225.3 L741.0,1225.1 L742.0,1224.9 L743.0,1224.6 L744.0,1224.4 L745.0,1224.2 L746.0,1224.0 L747.0,1223.8 L748.0,1223.5 L749.0,1223.3 L750.0,1223.1 L751.0,1222.9 L752.0,1222.7 L753.0,1222.4 L754.0,1222.2 L755.0,1222.0 L756.0,1221.8 L757.0,1221.6 L758.0,1221.3 L759.0,1221.1 L760.0,1220.9 L761.0,1220.7 L762.0,1220.5 L763.0,1220.2 L764.0,1220.0 L765.0,1219.8 L766.0,1219.6 L767.0,1219.4 L768.0,1219.2 L769.0,1218.9 L770.0,1218.7 L771.0,1218.5 L772.0,1218.3 L773.0,1218.1 L774.0,1217.8 L775.0,1217.6 L776.0,1217.4 L777.0,1217.2 L778.0,1217.0 L779.0,1216.7 L780.0,1216.5 L781.0,1216.3 L782.0,1216.1 L783.0,1215.9 L784.0,1215.7 L785.0,1215.4 L786.0,1215.2 L787.0,1215.0 L788.0,1214.8 L789.0,1214.6 L790.0,1214.3 L791.0,1214.1 L792.0,1213.9 L793.0,1213.7 L794.0,1213.5 L795.0,1213.2 L796.0,1213.0 L797.0,1212.8 L798.0,1212.6 L799.0,1212.4 L800.0,1212.1 L801.0,1211.9 L802.0,1211.7 L803.0,1211.5 L804.0,1211.3 L805.0,1211.0 L806.0,1210.8 L807.0,1210.6 L808.0,1210.4 L809.0,1210.2 L810.0,1209.9 L811.0,1209.7 L812.0,1209.5 L813.0,1209.3 L814.0,1209.1 L815.0,1208.8 L816.0,1208.6 L817.0,1208.4 L818.0,1208.2 L819.0,1207.9 L820.0,1207.7 L821.0,1207.5 L822.0,1207.3 L823.0,1207.0 L824.0,1206.8 L825.0,1206.6 L826.0,1206.4 L827.0,1206.1 L828.0,1205.9 L829.0,1205.7 L830.0,1205.5 L831.0,1205.2 L832.0,1205.0 L833.0,1204.8 L834.0,1204.6 L835.0,1204.3 L836.0,1204.1 L837.0,1203.9 L838.0,1203.7 L839.0,1203.4 L840.0,1203.2 L841.0,1203.0 L842.0,1202.7 L843.0,1202.5 L844.0,1202.3 L845.0,1202.1 L846.0,1201.8 L847.0,1201.6 L848.0,1201.4 L849.0,1201.1 L850.0,1200.9 L851.0,1200.7 L852.0,1200.4 L853.0,1200.2 L854.0,1200.0 L855.0,1199.7 L856.0,1199.5 L857.0,1199.3 L858.0,1199.0 L859.0,1198.8 L860.0,1198.6 L861.0,1198.3 L862.0,1198.1 L863.0,1197.8 L864.0,1197.6 L865.0,1197.4 L866.0,1197.1 L867.0,1196.9 L868.0,1196.7 L869.0,1196.4 L870.0,1196.2 L871.0,1195.9 L872.0,1195.7 L873.0,1195.5 L874.0,1195.2 L875.0,1195.0 L876.0,1194.7 L877.0,1194.5 L878.0,1194.2 L879.0,1194.0 L880.0,1193.7 L881.0,1193.5 L882.0,1193.3 L883.0,1193.0 L884.0,1192.8 L885.0,1192.5 L886.0,1192.3 L887.0,1192.0 L888.0,1191.8 L889.0,1191.5 L890.0,1191.3 L891.0,1191.0 L892.0,1190.8 L893.0,1190.5 L894.0,1190.3 L895.0,1190.0 L896.0,1189.8 L897.0,1189.5 L898.0,1189.2 L899.0,1189.0 L900.0,1188.7 L901.0,1188.5 L902.0,1188.2 L903.0,1188.0 L904.0,1187.7 L905.0,1187.4 L906.0,1187.2 L907.0,1186.9 L908.0,1186.7 L909.0,1186.4 L910.0,1186.1 L911.0,1185.9 L912.0,1185.6 L913.0,1185.4 L914.0,1185.1 L915.0,1184.8 L916.0,1184.6 L917.0,1184.3 L918.0,1184.0 L919.0,1183.8 L920.0,1183.5 L921.0,1183.2 L922.0,1183.0 L923.0,1182.7 L924.0,1182.5 L925.0,1182.2 L926.0,1181.9 L927.0,1181.7 L928.0,1181.4 L929.0,1181.2 L930.0,1180.9 L931.0,1180.7 L932.0,1180.4 L933.0,1180.2 L934.0,1180.0 L935.0,1179.7 L936.0,1179.5 L937.0,1179.3 L938.0,1179.0 L939.0,1178.8 L940.0,1178.6 L941.0,1178.4 L942.0,1178.2 L943.0,1178.0 L944.0,1177.8 L945.0,1177.6 L946.0,1177.4 L947.0,1177.2 L948.0,1177.1 L949.0,1176.9 L950.0,1176.7 L951.0,1176.6 L952.0,1176.4 L953.0,1176.3 L954.0,1176.1 L955.0,1176.0 L956.0,1175.9 L957.0,1175.7 L958.0,1175.6 L959.0,1175.5 L960.0,1175.4 L961.0,1175.4 L962.0,1175.3 L963.0,1175.2 L964.0,1175.1 L965.0,1175.1 L966.0,1175.0 L967.0,1175.0 L968.0,1175.0 L969.0,1174.9 L970.0,1174.9 L971.0,1174.9 L972.0,1174.9 L973.0,1175.0 L974.0,1175.0 L975.0,1175.0 L976.0,1175.1 L977.0,1175.2 L978.0,1175.2 L979.0,1175.3 L980.0,1175.4 L981.0,1175.5 L982.0,1175.6 L983.0,1175.8 L984.0,1175.9 L985.0,1176.0 L986.0,1176.2 L987.0,1176.4 L988.0,1176.6 L989.0,1176.8 L990.0,1177.0 L991.0,1177.2 L992.0,1177.5 L993.0,1177.8 L994.0,1178.1 L995.0,1178.4 L996.0,1178.8 L997.0,1179.2 L998.0,1179.6 L999.0,1180.1 L1000.0,1180.6 L1001.0,1181.2 L1002.0,1181.8 L1003.0,1182.5 L1004.0,1183.2 L1005.0,1184.0 L1006.0,1184.8 L1007.0,1185.7 L1008.0,1186.6 L1009.0,1187.6 L1010.0,1188.7 L1011.0,1189.8 L1012.0,1191.0 L1013.0,1192.2 L1014.0,1193.4 L1015.0,1194.7 L1016.0,1196.0 L1017.0,1197.3 L1018.0,1198.6 L1019.0,1200.0 L1020.0,1201.4 L1021.0,1202.8 L1022.0,1204.2 L1023.0,1205.6 L1024.0,1207.0 L1025.0,1208.5 L1026.0,1209.9 L1027.0,1211.3 L1028.0,1212.7 L1029.0,1214.0 L1030.0,1215.4 L1031.0,1216.7 L1032.0,1218.0 L1033.0,1219.2 L1034.0,1220.4 L1035.0,1221.6 L1036.0,1222.7 L1037.0,1223.8 L1038.0,1224.8 L1039.0,1225.7 L1040.0,1226.6 L1041.0,1227.4 L1042.0,1228.1 L1043.0,1228.7 L1044.0,1229.3 L1045.0,1229.7 L1046.0,1230.1 L1047.0,1230.4 L1048.0,1230.6 L1049.0,1230.7 L1050.0,1230.7 L1051.0,1230.7 L1052.0,1230.7 L1053.0,1230.5 L1054.0,1230.4 L1055.0,1230.1 L1056.0,1229.9 L1057.0,1229.6 L1058.0,1229.2 L1059.0,1228.9 L1060.0,1228.5 L1061.0,1228.1 L1062.0,1227.7 L1063.0,1227.3 L1064.0,1226.8 L1065.0,1226.4 L1066.0,1226.0 L1067.0,1225.6 L1068.0,1225.2 L1069.0,1224.8 L1070.0,1224.4 L1071.0,1224.0 L1072.0,1223.6 L1073.0,1223.2 L1074.0,1222.8 L1075.0,1222.4 L1076.0,1222.0 L1077.0,1221.6 L1078.0,1221.2 L1079.0,1220.9 L1080.0,1220.5 L1081.0,1220.1 L1082.0,1219.7 L1083.0,1219.3 L1084.0,1219.0 L1085.0,1218.6 L1086.0,1218.2 L1087.0,1217.9 L1088.0,1217.5 L1089.0,1217.2 L1090.0,1216.8 L1091.0,1216.4 L1092.0,1216.1 L1093.0,1215.7 L1094.0,1215.4 L1095.0,1215.0 L1096.0,1214.7 L1097.0,1214.4 L1098.0,1214.0 L1099.0,1213.7 L1100.0,1213.3 L1101.0,1213.0 L1102.0,1212.7 L1103.0,1212.3 L1104.0,1212.0 L1105.0,1211.7 L1106.0,1211.4 L1107.0,1211.0 L1108.0,1210.7 L1109.0,1210.4 L1110.0,1210.1 L1111.0,1209.8 L1112.0,1209.4 L1113.0,1209.1 L1114.0,1208.8 L1115.0,1208.5 L1116.0,1208.2 L1117.0,1207.9 L1118.0,1207.6 L1119.0,1207.3 L1120.0,1207.0 L1121.0,1206.7 L1122.0,1206.4 L1123.0,1206.1 L1124.0,1205.8 L1125.0,1205.5 L1126.0,1205.2 L1127.0,1204.9 L1128.0,1204.6 L1129.0,1204.4 L1130.0,1204.1 L1131.0,1203.8 L1132.0,1203.5 L1133.0,1203.2 L1134.0,1202.9 L1135.0,1202.7 L1136.0,1202.4 L1137.0,1202.1 L1138.0,1201.8 L1139.0,1201.6 L1140.0,1201.3 L1141.0,1201.0 L1142.0,1200.7 L1143.0,1200.5 L1144.0,1200.2 L1145.0,1199.9 L1146.0,1199.7 L1147.0,1199.4 L1148.0,1199.2 L1149.0,1198.9 L1150.0,1198.6 L1151.0,1198.4 L1152.0,1198.1 L1153.0,1197.9 L1154.0,1197.6 L1155.0,1197.3 L1156.0,1197.1 L1157.0,1196.8 L1158.0,1196.6 L1159.0,1196.3 L1160.0,1196.1 L1161.0,1195.8 L1162.0,1195.6 L1163.0,1195.3 L1164.0,1195.1 L1165.0,1194.8 L1166.0,1194.6 L1167.0,1194.3 L1168.0,1194.1 L1169.0,1193.9 L1170.0,1193.6 L1171.0,1193.4 L1172.0,1193.1 L1173.0,1192.9 L1174.0,1192.6 L1175.0,1192.4 L1176.0,1192.2 L1177.0,1191.9 L1178.0,1191.7 L1179.0,1191.5 L1180.0,1191.2 L1181.0,1191.0 L1182.0,1190.7 L1183.0,1190.5 L1184.0,1190.3 L1185.0,1190.0 L1186.0,1189.8 L1187.0,1189.6 L1188.0,1189.3 L1189.0,1189.1 L1190.0,1188.9 L1191.0,1188.6 L1192.0,1188.4 L1193.0,1188.2 L1194.0,1187.9 L1195.0,1187.7 L1196.0,1187.5 L1197.0,1187.3 L1198.0,1187.0 L1199.0,1186.8 L1200.0,1186.6 L1201.0,1186.3 L1202.0,1186.1 L1203.0,1185.9 L1204.0,1185.7 L1205.0,1185.4 L1206.0,1185.2 L1207.0,1185.0 L1208.0,1184.8 L1209.0,1184.5 L1210.0,1184.3 L1211.0,1184.1 L1212.0,1183.9 L1213.0,1183.6 L1214.0,1183.4 L1215.0,1183.2 L1216.0,1183.0 L1217.0,1182.7 L1218.0,1182.5 L1219.0,1182.3 L1220.0,1182.1 L1221.0,1181.9 L1222.0,1181.6 L1223.0,1181.4 L1224.0,1181.2 L1225.0,1181.0 L1226.0,1180.8 L1227.0,1180.6 L1228.0,1180.3 L1229.0,1180.1 L1230.0,1179.9 L1231.0,1179.7 L1232.0,1179.5 L1233.0,1179.3 L1234.0,1179.1 L1235.0,1178.9 L1236.0,1178.6 L1237.0,1178.4 L1238.0,1178.2 L1239.0,1178.0 L1240.0,1177.8 L1241.0,1177.6 L1242.0,1177.4 L1243.0,1177.2 L1244.0,1177.0 L1245.0,1176.8 L1246.0,1176.6 L1247.0,1176.4 L1248.0,1176.2 L1249.0,1176.0 L1250.0,1175.8 L1251.0,1175.6 L1252.0,1175.4 L1253.0,1175.2 L1254.0,1175.0 L1255.0,1174.8 L1256.0,1174.6 L1257.0,1174.4 L1258.0,1174.2 L1259.0,1174.0 L1260.0,1173.8 L1261.0,1173.6 L1262.0,1173.4 L1263.0,1173.2 L1264.0,1173.1 L1265.0,1172.9 L1266.0,1172.7 L1267.0,1172.5 L1268.0,1172.3 L1269.0,1172.1 L1270.0,1171.9 L1271.0,1171.8 L1272.0,1171.6 L1273.0,1171.4 L1274.0,1171.2 L1275.0,1171.0 L1276.0,1170.9 L1277.0,1170.7 L1278.0,1170.5 L1279.0,1170.3 L1280.0,1170.2 L1281.0,1170.0 L1282.0,1169.8 L1283.0,1169.6 L1284.0,1169.5 L1285.0,1169.3 L1286.0,1169.1 L1287.0,1169.0 L1288.0,1168.8 L1289.0,1168.6 L1290.0,1168.5 L1291.0,1168.3 L1292.0,1168.1 L1293.0,1168.0 L1294.0,1167.8 L1295.0,1167.6 L1296.0,1167.5 L1297.0,1167.3 L1298.0,1167.2 L1299.0,1167.0 L1300.0,1166.9 L1301.0,1166.7 L1302.0,1166.6 L1303.0,1166.4 L1304.0,1166.3 L1305.0,1166.1 L1306.0,1166.0 L1307.0,1165.8 L1308.0,1165.7 L1309.0,1165.5 L1310.0,1165.4 L1311.0,1165.2 L1312.0,1165.1 L1313.0,1165.0 L1314.0,1164.8 L1315.0,1164.7 L1316.0,1164.6 L1317.0,1164.4 L1318.0,1164.3 L1319.0,1164.2 L1320.0,1164.0 L1321.0,1163.9 L1322.0,1163.8 L1323.0,1163.6 L1324.0,1163.5 L1325.0,1163.4 L1326.0,1163.3 L1327.0,1163.1 L1328.0,1163.0 L1329.0,1162.9 L1330.0,1162.8 L1331.0,1162.7 L1332.0,1162.6 L1333.0,1162.4 L1334.0,1162.3 L1335.0,1162.2 L1336.0,1162.1 L1337.0,1162.0 L1338.0,1161.9 L1339.0,1161.8 L1340.0,1161.7 L1341.0,1161.6 L1342.0,1161.5 L1343.0,1161.4 L1344.0,1161.3 L1345.0,1161.2 L1346.0,1161.1 L1347.0,1161.0 L1348.0,1160.9 L1349.0,1160.8 L1350.0,1160.7 L1351.0,1160.6 L1352.0,1160.5 L1353.0,1160.4 L1354.0,1160.4 L1355.0,1160.3 L1356.0,1160.2 L1357.0,1160.1 L1358.0,1160.0 L1359.0,1160.0 L1360.0,1159.9 L1361.0,1159.8 L1362.0,1159.7 L1363.0,1159.7 L1364.0,1159.6 L1365.0,1159.5 L1366.0,1159.5 L1367.0,1159.4 L1368.0,1159.3 L1369.0,1159.3 L1370.0,1159.2 L1371.0,1159.1 L1372.0,1159.1 L1373.0,1159.0 L1374.0,1159.0 L1375.0,1158.9 L1376.0,1158.9 L1377.0,1158.8 L1378.0,1158.8 L1379.0,1158.7 L1380.0,1158.7 L1381.0,1158.6 L1382.0,1158.6 L1383.0,1158.6 L1384.0,1158.5 L1385.0,1158.5 L1386.0,1158.5 L1387.0,1158.4 L1388.0,1158.4 L1389.0,1158.4 L1390.0,1158.3 L1391.0,1158.3 L1392.0,1158.3 L1393.0,1158.3 L1394.0,1158.3 L1395.0,1158.2 L1396.0,1158.2 L1397.0,1158.2 L1398.0,1158.2 L1399.0,1158.2 L1400.0,1158.2 L1401.0,1158.2 L1402.0,1158.2 L1403.0,1158.1 L1404.0,1158.1 L1405.0,1158.1 L1406.0,1158.1 L1407.0,1158.2 L1408.0,1158.2 L1409.0,1158.2 L1410.0,1158.2 L1411.0,1158.2 L1412.0,1158.2 L1413.0,1158.2 L1414.0,1158.2 L1415.0,1158.2 L1416.0,1158.3 L1417.0,1158.3 L1418.0,1158.3 L1419.0,1158.3 L1420.0,1158.4 L1421.0,1158.4 L1422.0,1158.4 L1423.0,1158.5 L1424.0,1158.5 L1425.0,1158.5 L1426.0,1158.6 L1427.0,1158.6 L1428.0,1158.7 L1429.0,1158.7 L1430.0,1158.7 L1431.0,1158.8 L1432.0,1158.8 L1433.0,1158.9 L1434.0,1159.0 L1435.0,1159.0 L1436.0,1159.1 L1437.0,1159.1 L1438.0,1159.2 L1439.0,1159.3 L1440.0,1159.3 L1441.0,1159.4 L1442.0,1159.5 L1443.0,1159.5 L1444.0,1159.6 L1445.0,1159.7 L1446.0,1159.8 L1447.0,1159.8 L1448.0,1159.9 L1449.0,1160.0 L1450.0,1160.1 L1451.0,1160.2 L1452.0,1160.3 L1453.0,1160.4 L1454.0,1160.5 L1455.0,1160.6 L1456.0,1160.6 L1457.0,1160.7 L1458.0,1160.8 L1459.0,1160.9 L1460.0,1161.0 L1461.0,1161.1 L1462.0,1161.3 L1463.0,1161.4 L1464.0,1161.5 L1465.0,1161.6 L1466.0,1161.7 L1467.0,1161.8 L1468.0,1161.9 L1469.0,1162.0 L1470.0,1162.2 L1471.0,1162.3 L1472.0,1162.4 L1473.0,1162.5 L1474.0,1162.6 L1475.0,1162.8 L1476.0,1162.9 L1477.0,1163.0 L1478.0,1163.1 L1479.0,1163.3 L1480.0,1163.4 L1481.0,1163.5 L1482.0,1163.7 L1483.0,1163.8 L1484.0,1163.9 L1485.0,1164.1 L1486.0,1164.2 L1487.0,1164.4 L1488.0,1164.5 L1489.0,1164.7 L1490.0,1164.8 L1491.0,1164.9 L1492.0,1165.1 L1493.0,1165.2 L1494.0,1165.4 L1495.0,1165.5 L1496.0,1165.7 L1497.0,1165.8 L1498.0,1166.0 L1499.0,1166.1 L1500.0,1166.3 L1501.0,1166.5 L1502.0,1166.6 L1503.0,1166.8 L1504.0,1166.9 L1505.0,1167.1 L1506.0,1167.3 L1507.0,1167.4 L1508.0,1167.6 L1509.0,1167.8 L1510.0,1167.9 L1511.0,1168.1 L1512.0,1168.3 L1513.0,1168.4 L1514.0,1168.6 L1515.0,1168.8 L1516.0,1168.9 L1517.0,1169.1 L1518.0,1169.3 L1519.0,1169.5 L1520.0,1169.6 L1521.0,1169.8 L1522.0,1170.0 L1523.0,1170.2 L1524.0,1170.3 L1525.0,1170.5 L1526.0,1170.7 L1527.0,1170.9 L1528.0,1171.1 L1529.0,1171.2 L1530.0,1171.4 L1531.0,1171.6 L1532.0,1171.8 L1533.0,1172.0 L1534.0,1172.2 L1535.0,1172.3 L1536.0,1172.5 L1537.0,1172.7 L1538.0,1172.9 L1539.0,1173.1 L1540.0,1173.3 L1541.0,1173.5 L1542.0,1173.7 L1543.0,1173.8 L1544.0,1174.0 L1545.0,1174.2 L1546.0,1174.4 L1547.0,1174.6 L1548.0,1174.8 L1549.0,1175.0 L1550.0,1175.2 L1551.0,1175.4 L1552.0,1175.6 L1553.0,1175.8 L1554.0,1176.0 L1555.0,1176.2 L1556.0,1176.4 L1557.0,1176.6 L1558.0,1176.7 L1559.0,1176.9 L1560.0,1177.1 L1561.0,1177.3 L1562.0,1177.5 L1563.0,1177.7 L1564.0,1177.9 L1565.0,1178.1 L1566.0,1178.3 L1567.0,1178.5 L1568.0,1178.7 L1569.0,1178.9 L1570.0,1179.1 L1571.0,1179.3 L1572.0,1179.5 L1573.0,1179.7 L1574.0,1179.9 L1575.0,1180.1 L1576.0,1180.3 L1577.0,1180.5 L1578.0,1180.7 L1579.0,1180.9 L1580.0,1181.1 L1581.0,1181.3 L1582.0,1181.5" fill="none" stroke="#000" stroke-width="4.4" stroke-linejoin="round"/>
<path d="M182.0,1511.4 L183.0,1511.4 L184.0,1511.3 L185.0,1511.3 L186.0,1511.3 L187.0,1511.3 L188.0,1511.2 L189.0,1511.2 L190.0,1511.2 L191.0,1511.2 L192.0,1511.1 L193.0,1511.1 L194.0,1511.1 L195.0,1511.1 L196.0,1511.0 L197.0,1511.0 L198.0,1511.0 L199.0,1511.0 L200.0,1510.9 L201.0,1510.9 L202.0,1510.9 L203.0,1510.9 L204.0,1510.9 L205.0,1510.8 L206.0,1510.8 L207.0,1510.8 L208.0,1510.8 L209.0,1510.8 L210.0,1510.7 L211.0,1510.7 L212.0,1510.7 L213.0,1510.7 L214.0,1510.7 L215.0,1510.7 L216.0,1510.6 L217.0,1510.6 L218.0,1510.6 L219.0,1510.6 L220.0,1510.6 L221.0,1510.6 L222.0,1510.5 L223.0,1510.5 L224.0,1510.5 L225.0,1510.5 L226.0,1510.5 L227.0,1510.5 L228.0,1510.5 L229.0,1510.4 L230.0,1510.4 L231.0,1510.4 L232.0,1510.4 L233.0,1510.4 L234.0,1510.4 L235.0,1510.4 L236.0,1510.4 L237.0,1510.4 L238.0,1510.3 L239.0,1510.3 L240.0,1510.3 L241.0,1510.3 L242.0,1510.3 L243.0,1510.3 L244.0,1510.3 L245.0,1510.3 L246.0,1510.3 L247.0,1510.3 L248.0,1510.3 L249.0,1510.3 L250.0,1510.2 L251.0,1510.2 L252.0,1510.2 L253.0,1510.2 L254.0,1510.2 L255.0,1510.2 L256.0,1510.2 L257.0,1510.2 L258.0,1510.2 L259.0,1510.2 L260.0,1510.2 L261.0,1510.2 L262.0,1510.2 L263.0,1510.2 L264.0,1510.2 L265.0,1510.2 L266.0,1510.2 L267.0,1510.2 L268.0,1510.2 L269.0,1510.2 L270.0,1510.2 L271.0,1510.2 L272.0,1510.2 L273.0,1510.2 L274.0,1510.2 L275.0,1510.1 L276.0,1510.1 L277.0,1510.1 L278.0,1510.1 L279.0,1510.1 L280.0,1510.1 L281.0,1510.1 L282.0,1510.1 L283.0,1510.1 L284.0,1510.1 L285.0,1510.1 L286.0,1510.2 L287.0,1510.2 L288.0,1510.2 L289.0,1510.2 L290.0,1510.2 L291.0,1510.2 L292.0,1510.2 L293.0,1510.2 L294.0,1510.2 L295.0,1510.2 L296.0,1510.2 L297.0,1510.2 L298.0,1510.2 L299.0,1510.2 L300.0,1510.2 L301.0,1510.2 L302.0,1510.2 L303.0,1510.2 L304.0,1510.2 L305.0,1510.2 L306.0,1510.2 L307.0,1510.2 L308.0,1510.2 L309.0,1510.2 L310.0,1510.2 L311.0,1510.2 L312.0,1510.2 L313.0,1510.2 L314.0,1510.2 L315.0,1510.2 L316.0,1510.3 L317.0,1510.3 L318.0,1510.3 L319.0,1510.3 L320.0,1510.3 L321.0,1510.3 L322.0,1510.3 L323.0,1510.3 L324.0,1510.3 L325.0,1510.3 L326.0,1510.3 L327.0,1510.3 L328.0,1510.3 L329.0,1510.3 L330.0,1510.3 L331.0,1510.3 L332.0,1510.4 L333.0,1510.4 L334.0,1510.4 L335.0,1510.4 L336.0,1510.4 L337.0,1510.4 L338.0,1510.4 L339.0,1510.4 L340.0,1510.4 L341.0,1510.4 L342.0,1510.4 L343.0,1510.4 L344.0,1510.4 L345.0,1510.5 L346.0,1510.5 L347.0,1510.5 L348.0,1510.5 L349.0,1510.5 L350.0,1510.5 L351.0,1510.5 L352.0,1510.5 L353.0,1510.5 L354.0,1510.5 L355.0,1510.5 L356.0,1510.5 L357.0,1510.6 L358.0,1510.6 L359.0,1510.6 L360.0,1510.6 L361.0,1510.6 L362.0,1510.6 L363.0,1510.6 L364.0,1510.6 L365.0,1510.6 L366.0,1510.6 L367.0,1510.6 L368.0,1510.7 L369.0,1510.7 L370.0,1510.7 L371.0,1510.7 L372.0,1510.7 L373.0,1510.7 L374.0,1510.7 L375.0,1510.7 L376.0,1510.7 L377.0,1510.7 L378.0,1510.7 L379.0,1510.8 L380.0,1510.8 L381.0,1510.8 L382.0,1510.8 L383.0,1510.8 L384.0,1510.8 L385.0,1510.8 L386.0,1510.8 L387.0,1510.8 L388.0,1510.8 L389.0,1510.8 L390.0,1510.9 L391.0,1510.9 L392.0,1510.9 L393.0,1510.9 L394.0,1510.9 L395.0,1510.9 L396.0,1510.9 L397.0,1510.9 L398.0,1510.9 L399.0,1510.9 L400.0,1510.9 L401.0,1510.9 L402.0,1511.0 L403.0,1511.0 L404.0,1511.0 L405.0,1511.0 L406.0,1511.0 L407.0,1511.0 L408.0,1511.0 L409.0,1511.0 L410.0,1511.0 L411.0,1511.0 L412.0,1511.0 L413.0,1511.0 L414.0,1511.0 L415.0,1511.1 L416.0,1511.1 L417.0,1511.1 L418.0,1511.1 L419.0,1511.1 L420.0,1511.1 L421.0,1511.1 L422.0,1511.1 L423.0,1511.1 L424.0,1511.1 L425.0,1511.1 L426.0,1511.1 L427.0,1511.1 L428.0,1511.1 L429.0,1511.2 L430.0,1511.2 L431.0,1511.2 L432.0,1511.2 L433.0,1511.2 L434.0,1511.2 L435.0,1511.2 L436.0,1511.2 L437.0,1511.2 L438.0,1511.2 L439.0,1511.2 L440.0,1511.2 L441.0,1511.2 L442.0,1511.2 L443.0,1511.2 L444.0,1511.2 L445.0,1511.2 L446.0,1511.2 L447.0,1511.2 L448.0,1511.2 L449.0,1511.2 L450.0,1511.2 L451.0,1511.3 L452.0,1511.3 L453.0,1511.3 L454.0,1511.3 L455.0,1511.3 L456.0,1511.3 L457.0,1511.3 L458.0,1511.3 L459.0,1511.3 L460.0,1511.3 L461.0,1511.3 L462.0,1511.3 L463.0,1511.3 L464.0,1511.3 L465.0,1511.3 L466.0,1511.3 L467.0,1511.3 L468.0,1511.3 L469.0,1511.3 L470.0,1511.3 L471.0,1511.3 L472.0,1511.3 L473.0,1511.3 L474.0,1511.3 L475.0,1511.3 L476.0,1511.3 L477.0,1511.3 L478.0,1511.3 L479.0,1511.3 L480.0,1511.3 L481.0,1511.3 L482.0,1511.3 L483.0,1511.3 L484.0,1511.3 L485.0,1511.2 L486.0,1511.2 L487.0,1511.2 L488.0,1511.2 L489.0,1511.2 L490.0,1511.2 L491.0,1511.2 L492.0,1511.2 L493.0,1511.2 L494.0,1511.2 L495.0,1511.2 L496.0,1511.2 L497.0,1511.2 L498.0,1511.2 L499.0,1511.2 L500.0,1511.2 L501.0,1511.2 L502.0,1511.2 L503.0,1511.1 L504.0,1511.1 L505.0,1511.1 L506.0,1511.1 L507.0,1511.1 L508.0,1511.1 L509.0,1511.1 L510.0,1511.1 L511.0,1511.1 L512.0,1511.1 L513.0,1511.1 L514.0,1511.0 L515.0,1511.0 L516.0,1511.0 L517.0,1511.0 L518.0,1511.0 L519.0,1511.0 L520.0,1511.0 L521.0,1511.0 L522.0,1510.9 L523.0,1510.9 L524.0,1510.9 L525.0,1510.9 L526.0,1510.9 L527.0,1510.9 L528.0,1510.9 L529.0,1510.8 L530.0,1510.8 L531.0,1510.8 L532.0,1510.8 L533.0,1510.8 L534.0,1510.8 L535.0,1510.7 L536.0,1510.7 L537.0,1510.7 L538.0,1510.7 L539.0,1510.7 L540.0,1510.7 L541.0,1510.6 L542.0,1510.6 L543.0,1510.6 L544.0,1510.6 L545.0,1510.6 L546.0,1510.5 L547.0,1510.5 L548.0,1510.5 L549.0,1510.5 L550.0,1510.4 L551.0,1510.4 L552.0,1510.4 L553.0,1510.4 L554.0,1510.4 L555.0,1510.3 L556.0,1510.3 L557.0,1510.3 L558.0,1510.3 L559.0,1510.2 L560.0,1510.2 L561.0,1510.2 L562.0,1510.2 L563.0,1510.1 L564.0,1510.1 L565.0,1510.1 L566.0,1510.0 L567.0,1510.0 L568.0,1510.0 L569.0,1510.0 L570.0,1509.9 L571.0,1509.9 L572.0,1509.9 L573.0,1509.8 L574.0,1509.8 L575.0,1509.8 L576.0,1509.7 L577.0,1509.7 L578.0,1509.7 L579.0,1509.6 L580.0,1509.6 L581.0,1509.6 L582.0,1509.5 L583.0,1509.5 L584.0,1509.5 L585.0,1509.4 L586.0,1509.4 L587.0,1509.4 L588.0,1509.3 L589.0,1509.3 L590.0,1509.2 L591.0,1509.2 L592.0,1509.2 L593.0,1509.1 L594.0,1509.1 L595.0,1509.0 L596.0,1509.0 L597.0,1509.0 L598.0,1508.9 L599.0,1508.9 L600.0,1508.8 L601.0,1508.8 L602.0,1508.7 L603.0,1508.7 L604.0,1508.7 L605.0,1508.6 L606.0,1508.6 L607.0,1508.5 L608.0,1508.5 L609.0,1508.4 L610.0,1508.4 L611.0,1508.3 L612.0,1508.3 L613.0,1508.2 L614.0,1508.2 L615.0,1508.1 L616.0,1508.1 L617.0,1508.0 L618.0,1508.0 L619.0,1507.9 L620.0,1507.9 L621.0,1507.8 L622.0,1507.8 L623.0,1507.7 L624.0,1507.7 L625.0,1507.6 L626.0,1507.6 L627.0,1507.5 L628.0,1507.4 L629.0,1507.4 L630.0,1507.3 L631.0,1507.3 L632.0,1507.2 L633.0,1507.2 L634.0,1507.1 L635.0,1507.0 L636.0,1507.0 L637.0,1506.9 L638.0,1506.9 L639.0,1506.8 L640.0,1506.8 L641.0,1506.7 L642.0,1506.6 L643.0,1506.6 L644.0,1506.5 L645.0,1506.5 L646.0,1506.4 L647.0,1506.3 L648.0,1506.3 L649.0,1506.2 L650.0,1506.1 L651.0,1506.1 L652.0,1506.0 L653.0,1505.9 L654.0,1505.9 L655.0,1505.8 L656.0,1505.8 L657.0,1505.7 L658.0,1505.6 L659.0,1505.6 L660.0,1505.5 L661.0,1505.4 L662.0,1505.4 L663.0,1505.3 L664.0,1505.2 L665.0,1505.2 L666.0,1505.1 L667.0,1505.0 L668.0,1505.0 L669.0,1504.9 L670.0,1504.8 L671.0,1504.7 L672.0,1504.7 L673.0,1504.6 L674.0,1504.5 L675.0,1504.5 L676.0,1504.4 L677.0,1504.3 L678.0,1504.3 L679.0,1504.2 L680.0,1504.1 L681.0,1504.0 L682.0,1504.0 L683.0,1503.9 L684.0,1503.8 L685.0,1503.8 L686.0,1503.7 L687.0,1503.6 L688.0,1503.5 L689.0,1503.5 L690.0,1503.4 L691.0,1503.3 L692.0,1503.3 L693.0,1503.2 L694.0,1503.1 L695.0,1503.0 L696.0,1502.9 L697.0,1502.9 L698.0,1502.8 L699.0,1502.7 L700.0,1502.6 L701.0,1502.5 L702.0,1502.5 L703.0,1502.4 L704.0,1502.3 L705.0,1502.2 L706.0,1502.1 L707.0,1502.0 L708.0,1501.9 L709.0,1501.8 L710.0,1501.7 L711.0,1501.6 L712.0,1501.5 L713.0,1501.4 L714.0,1501.3 L715.0,1501.2 L716.0,1501.1 L717.0,1501.0 L718.0,1500.9 L719.0,1500.8 L720.0,1500.7 L721.0,1500.5 L722.0,1500.4 L723.0,1500.3 L724.0,1500.2 L725.0,1500.0 L726.0,1499.9 L727.0,1499.8 L728.0,1499.6 L729.0,1499.5 L730.0,1499.3 L731.0,1499.2 L732.0,1499.0 L733.0,1498.9 L734.0,1498.7 L735.0,1498.5 L736.0,1498.4 L737.0,1498.2 L738.0,1498.0 L739.0,1497.8 L740.0,1497.7 L741.0,1497.5 L742.0,1497.3 L743.0,1497.1 L744.0,1496.9 L745.0,1496.7 L746.0,1496.5 L747.0,1496.3 L748.0,1496.0 L749.0,1495.8 L750.0,1495.6 L751.0,1495.4 L752.0,1495.1 L753.0,1494.9 L754.0,1494.6 L755.0,1494.4 L756.0,1494.1 L757.0,1493.9 L758.0,1493.6 L759.0,1493.4 L760.0,1493.1 L761.0,1492.8 L762.0,1492.5 L763.0,1492.2 L764.0,1491.9 L765.0,1491.6 L766.0,1491.3 L767.0,1491.0 L768.0,1490.7 L769.0,1490.4 L770.0,1490.1 L771.0,1489.7 L772.0,1489.4 L773.0,1489.1 L774.0,1488.7 L775.0,1488.4 L776.0,1488.0 L777.0,1487.6 L778.0,1487.3 L779.0,1486.9 L780.0,1486.5 L781.0,1486.2 L782.0,1485.8 L783.0,1485.4 L784.0,1485.0 L785.0,1484.6 L786.0,1484.2 L787.0,1483.8 L788.0,1483.4 L789.0,1482.9 L790.0,1482.5 L791.0,1482.1 L792.0,1481.6 L793.0,1481.2 L794.0,1480.7 L795.0,1480.3 L796.0,1479.8 L797.0,1479.4 L798.0,1478.9 L799.0,1478.4 L800.0,1478.0 L801.0,1477.5 L802.0,1477.0 L803.0,1476.5 L804.0,1476.0 L805.0,1475.5 L806.0,1475.0 L807.0,1474.5 L808.0,1473.9 L809.0,1473.4 L810.0,1472.9 L811.0,1472.4 L812.0,1471.8 L813.0,1471.3 L814.0,1470.7 L815.0,1470.2 L816.0,1469.6 L817.0,1469.1 L818.0,1468.5 L819.0,1467.9 L820.0,1467.3 L821.0,1466.8 L822.0,1466.2 L823.0,1465.6 L824.0,1465.0 L825.0,1464.4 L826.0,1463.8 L827.0,1463.2 L828.0,1462.6 L829.0,1462.0 L830.0,1461.4 L831.0,1460.8 L832.0,1460.2 L833.0,1459.6 L834.0,1459.0 L835.0,1458.4 L836.0,1457.8 L837.0,1457.1 L838.0,1456.5 L839.0,1455.9 L840.0,1455.3 L841.0,1454.6 L842.0,1454.0 L843.0,1453.4 L844.0,1452.8 L845.0,1452.1 L846.0,1451.5 L847.0,1450.9 L848.0,1450.2 L849.0,1449.6 L850.0,1449.0 L851.0,1448.3 L852.0,1447.7 L853.0,1447.1 L854.0,1446.4 L855.0,1445.8 L856.0,1445.2 L857.0,1444.5 L858.0,1443.9 L859.0,1443.3 L860.0,1442.6 L861.0,1442.0 L862.0,1441.4 L863.0,1440.7 L864.0,1440.1 L865.0,1439.5 L866.0,1438.8 L867.0,1438.2 L868.0,1437.6 L869.0,1436.9 L870.0,1436.3 L871.0,1435.7 L872.0,1435.0 L873.0,1434.4 L874.0,1433.8 L875.0,1433.2 L876.0,1432.5 L877.0,1431.9 L878.0,1431.3 L879.0,1430.6 L880.0,1430.0 L881.0,1429.4 L882.0,1428.8 L883.0,1428.2 L884.0,1427.5 L885.0,1426.9 L886.0,1426.3 L887.0,1425.7 L888.0,1425.1 L889.0,1424.4 L890.0,1423.8 L891.0,1423.2 L892.0,1422.6 L893.0,1422.0 L894.0,1421.4 L895.0,1420.8 L896.0,1420.2 L897.0,1419.6 L898.0,1419.0 L899.0,1418.4 L900.0,1417.8 L901.0,1417.2 L902.0,1416.6 L903.0,1416.0 L904.0,1415.4 L905.0,1414.8 L906.0,1414.3 L907.0,1413.7 L908.0,1413.1 L909.0,1412.5 L910.0,1411.9 L911.0,1411.4 L912.0,1410.8 L913.0,1410.2 L914.0,1409.6 L915.0,1409.1 L916.0,1408.5 L917.0,1407.9 L918.0,1407.4 L919.0,1406.8 L920.0,1406.3 L921.0,1405.7 L922.0,1405.2 L923.0,1404.6 L924.0,1404.0 L925.0,1403.5 L926.0,1403.0 L927.0,1402.4 L928.0,1401.9 L929.0,1401.3 L930.0,1400.8 L931.0,1400.2 L932.0,1399.7 L933.0,1399.2 L934.0,1398.7 L935.0,1398.1 L936.0,1397.6 L937.0,1397.1 L938.0,1396.5 L939.0,1396.0 L940.0,1395.5 L941.0,1395.0 L942.0,1394.5 L943.0,1394.0 L944.0,1393.5 L945.0,1392.9 L946.0,1392.4 L947.0,1391.9 L948.0,1391.4 L949.0,1390.9 L950.0,1390.5 L951.0,1390.0 L952.0,1389.5 L953.0,1389.0 L954.0,1388.5 L955.0,1388.0 L956.0,1387.6 L957.0,1387.1 L958.0,1386.6 L959.0,1386.1 L960.0,1385.7 L961.0,1385.2 L962.0,1384.8 L963.0,1384.3 L964.0,1383.9 L965.0,1383.4 L966.0,1383.0 L967.0,1382.6 L968.0,1382.1 L969.0,1381.7 L970.0,1381.3 L971.0,1380.9 L972.0,1380.5 L973.0,1380.0 L974.0,1379.6 L975.0,1379.2 L976.0,1378.8 L977.0,1378.5 L978.0,1378.1 L979.0,1377.7 L980.0,1377.3 L981.0,1376.9 L982.0,1376.6 L983.0,1376.2 L984.0,1375.9 L985.0,1375.5 L986.0,1375.2 L987.0,1374.8 L988.0,1374.6 L989.0,1374.5 L990.0,1374.4 L991.0,1374.3 L992.0,1374.2 L993.0,1374.2 L994.0,1374.1 L995.0,1374.1 L996.0,1374.1 L997.0,1374.1 L998.0,1374.1 L999.0,1374.1 L1000.0,1374.1 L1001.0,1374.1 L1002.0,1374.1 L1003.0,1374.1 L1004.0,1374.1 L1005.0,1374.1 L1006.0,1374.1 L1007.0,1374.2 L1008.0,1374.2 L1009.0,1374.2 L1010.0,1374.3 L1011.0,1374.3 L1012.0,1374.3 L1013.0,1374.4 L1014.0,1374.5 L1015.0,1374.8 L1016.0,1375.1 L1017.0,1375.6 L1018.0,1376.0 L1019.0,1376.5 L1020.0,1376.9 L1021.0,1377.3 L1022.0,1377.7 L1023.0,1378.1 L1024.0,1378.5 L1025.0,1379.0 L1026.0,1379.5 L1027.0,1380.0 L1028.0,1380.6 L1029.0,1381.2 L1030.0,1381.9 L1031.0,1382.7 L1032.0,1383.5 L1033.0,1384.4 L1034.0,1385.4 L1035.0,1386.4 L1036.0,1387.6 L1037.0,1389.0 L1038.0,1390.5 L1039.0,1392.1 L1040.0,1393.7 L1040.2,1394.1 L1040.4,1394.4 L1040.6,1394.8 L1040.8,1395.1 L1041.0,1395.5 L1041.2,1395.9 L1041.4,1396.2 L1041.6,1396.6 L1041.8,1397.0 L1042.0,1397.4 L1042.2,1397.8 L1042.4,1398.2 L1042.6,1398.7 L1042.8,1399.1 L1043.0,1399.5 L1043.2,1400.0 L1043.4,1400.4 L1043.6,1400.9 L1043.8,1401.3 L1044.0,1401.8 L1044.2,1402.3 L1044.4,1402.8 L1044.6,1403.3 L1044.8,1403.8 L1045.0,1404.4 L1045.2,1404.9 L1045.4,1405.5 L1045.6,1406.0 L1045.8,1406.6 L1046.0,1407.2 L1046.2,1407.8 L1046.4,1408.4 L1046.6,1409.0 L1046.8,1409.6 L1047.0,1410.2 L1047.2,1410.8 L1047.4,1411.4 L1047.6,1412.0 L1047.8,1412.6 L1048.0,1413.2 L1048.2,1413.8 L1048.4,1414.4 L1048.6,1415.1 L1048.8,1415.7 L1049.0,1416.3 L1049.2,1416.9 L1049.4,1417.6 L1049.6,1418.2 L1049.8,1418.9 L1050.0,1419.5 L1050.2,1420.2 L1050.4,1420.8 L1050.6,1421.5 L1050.8,1422.2 L1051.0,1422.8 L1051.2,1423.5 L1051.4,1424.2 L1051.6,1424.9 L1051.8,1425.5 L1052.0,1426.2 L1052.2,1426.9 L1052.4,1427.6 L1052.6,1428.3 L1052.8,1429.0 L1053.0,1429.7 L1053.2,1430.4 L1053.4,1431.1 L1053.6,1431.8 L1053.8,1432.5 L1054.0,1433.2 L1054.2,1433.9 L1054.4,1434.6 L1054.6,1435.4 L1054.8,1436.1 L1055.0,1436.8 L1055.2,1437.6 L1055.4,1438.3 L1055.6,1439.1 L1055.8,1439.9 L1056.0,1440.6 L1056.2,1441.4 L1056.4,1442.2 L1056.6,1443.0 L1056.8,1443.8 L1057.0,1444.6 L1057.2,1445.5 L1057.4,1446.3 L1057.6,1447.2 L1057.8,1448.0 L1058.0,1448.9 L1058.2,1449.8 L1058.4,1450.6 L1058.6,1451.5 L1058.8,1452.4 L1059.0,1453.3 L1059.2,1454.2 L1059.4,1455.0 L1059.6,1455.9 L1059.8,1456.8 L1060.0,1457.6 L1060.2,1458.5 L1060.4,1459.3 L1060.6,1460.2 L1060.8,1461.0 L1061.0,1461.8 L1061.2,1462.6 L1061.4,1463.4 L1061.6,1464.3 L1061.8,1465.1 L1062.0,1466.0 L1062.2,1466.9 L1062.4,1467.8 L1062.6,1468.6 L1062.8,1469.5 L1063.0,1470.4 L1063.2,1471.2 L1063.4,1472.1 L1063.6,1472.9 L1063.8,1473.7 L1064.0,1474.5 L1064.2,1475.3 L1064.4,1476.0 L1064.6,1476.7 L1064.8,1477.3 L1065.0,1477.9 L1065.2,1478.5 L1065.4,1479.0 L1065.6,1479.5 L1065.8,1479.9 L1066.0,1480.3 L1066.2,1480.7 L1066.4,1481.0 L1066.6,1481.4 L1066.8,1481.8 L1067.0,1482.1 L1067.2,1482.4 L1067.4,1482.7 L1067.6,1483.0 L1067.8,1483.3 L1068.0,1483.6 L1068.2,1483.8 L1068.4,1484.0 L1068.6,1484.2 L1068.8,1484.4 L1069.0,1484.5 L1069.2,1484.6 L1069.4,1484.7 L1069.6,1484.7 L1069.8,1484.7 L1070.0,1484.6 L1070.2,1484.4 L1070.4,1484.3 L1070.6,1484.0 L1070.8,1483.8 L1071.0,1483.5 L1071.2,1483.2 L1071.4,1482.8 L1071.6,1482.5 L1071.8,1482.1 L1072.0,1481.7 L1072.2,1481.2 L1072.4,1480.8 L1072.6,1480.4 L1072.8,1479.9 L1073.0,1479.5 L1073.2,1479.0 L1073.4,1478.6 L1073.6,1478.1 L1073.8,1477.7 L1074.0,1477.3 L1074.2,1476.9 L1074.4,1476.6 L1074.6,1476.2 L1074.8,1475.9 L1075.0,1475.6 L1075.2,1475.3 L1075.4,1475.0 L1075.6,1474.8 L1075.8,1474.6 L1076.0,1474.4 L1076.2,1474.2 L1076.4,1474.0 L1076.6,1473.8 L1076.8,1473.6 L1077.0,1473.5 L1077.2,1473.4 L1077.4,1473.2 L1077.6,1473.1 L1077.8,1473.0 L1078.0,1472.9 L1078.2,1472.8 L1078.4,1472.7 L1078.6,1472.6 L1078.8,1472.5 L1079.0,1472.4 L1079.2,1472.3 L1079.4,1472.2 L1079.6,1472.2 L1079.8,1472.1 L1080.0,1472.0 L1080.2,1471.9 L1080.4,1471.8 L1080.6,1471.7 L1080.8,1471.6 L1081.0,1471.6 L1081.2,1471.5 L1081.4,1471.4 L1081.6,1471.3 L1081.8,1471.2 L1082.0,1471.2 L1082.2,1471.1 L1082.4,1471.0 L1082.6,1470.9 L1082.8,1470.8 L1083.0,1470.7 L1083.2,1470.7 L1083.4,1470.6 L1083.6,1470.5 L1083.8,1470.4 L1084.0,1470.4 L1084.2,1470.3 L1084.4,1470.2 L1084.6,1470.1 L1084.8,1470.1 L1085.0,1470.0 L1085.2,1469.9 L1085.4,1469.8 L1085.6,1469.8 L1085.8,1469.7 L1086.0,1469.6 L1086.2,1469.5 L1086.4,1469.5 L1086.6,1469.4 L1086.8,1469.3 L1087.0,1469.2 L1087.2,1469.2 L1087.4,1469.1 L1087.6,1469.0 L1087.8,1469.0 L1088.0,1468.9 L1088.2,1468.8 L1088.4,1468.7 L1088.6,1468.7 L1088.8,1468.6 L1089.0,1468.5 L1089.2,1468.5 L1089.4,1468.4 L1089.6,1468.3 L1089.8,1468.3 L1090.0,1468.2 L1091.0,1467.9 L1092.0,1467.5 L1093.0,1467.2 L1094.0,1466.9 L1095.0,1466.6 L1096.0,1466.3 L1097.0,1466.0 L1098.0,1465.7 L1099.0,1465.4 L1100.0,1465.2 L1101.0,1464.9 L1102.0,1464.6 L1103.0,1464.3 L1104.0,1464.1 L1105.0,1463.8 L1106.0,1463.6 L1107.0,1463.3 L1108.0,1463.1 L1109.0,1462.8 L1110.0,1462.5 L1111.0,1462.3 L1112.0,1462.0 L1113.0,1461.8 L1114.0,1461.5 L1115.0,1461.3 L1116.0,1461.0 L1117.0,1460.8 L1118.0,1460.5 L1119.0,1460.3 L1120.0,1460.0 L1121.0,1459.8 L1122.0,1459.5 L1123.0,1459.3 L1124.0,1459.0 L1125.0,1458.8 L1126.0,1458.5 L1127.0,1458.2 L1128.0,1458.0 L1129.0,1457.7 L1130.0,1457.5 L1131.0,1457.2 L1132.0,1456.9 L1133.0,1456.7 L1134.0,1456.4 L1135.0,1456.1 L1136.0,1455.9 L1137.0,1455.6 L1138.0,1455.3 L1139.0,1455.1 L1140.0,1454.8 L1141.0,1454.5 L1142.0,1454.3 L1143.0,1454.0 L1144.0,1453.7 L1145.0,1453.5 L1146.0,1453.2 L1147.0,1452.9 L1148.0,1452.6 L1149.0,1452.4 L1150.0,1452.1 L1151.0,1451.8 L1152.0,1451.6 L1153.0,1451.3 L1154.0,1451.0 L1155.0,1450.7 L1156.0,1450.5 L1157.0,1450.2 L1158.0,1449.9 L1159.0,1449.7 L1160.0,1449.4 L1161.0,1449.1 L1162.0,1448.8 L1163.0,1448.6 L1164.0,1448.3 L1165.0,1448.0 L1166.0,1447.8 L1167.0,1447.5 L1168.0,1447.2 L1169.0,1447.0 L1170.0,1446.7 L1171.0,1446.4 L1172.0,1446.2 L1173.0,1445.9 L1174.0,1445.6 L1175.0,1445.3 L1176.0,1445.1 L1177.0,1444.8 L1178.0,1444.6 L1179.0,1444.3 L1180.0,1444.0 L1181.0,1443.8 L1182.0,1443.5 L1183.0,1443.2 L1184.0,1443.0 L1185.0,1442.7 L1186.0,1442.5 L1187.0,1442.2 L1188.0,1441.9 L1189.0,1441.7 L1190.0,1441.4 L1191.0,1441.2 L1192.0,1440.9 L1193.0,1440.7 L1194.0,1440.4 L1195.0,1440.2 L1196.0,1439.9 L1197.0,1439.7 L1198.0,1439.4 L1199.0,1439.2 L1200.0,1438.9 L1201.0,1438.7 L1202.0,1438.4 L1203.0,1438.2 L1204.0,1437.9 L1205.0,1437.7 L1206.0,1437.5 L1207.0,1437.2 L1208.0,1437.0 L1209.0,1436.7 L1210.0,1436.5 L1211.0,1436.3 L1212.0,1436.1 L1213.0,1435.8 L1214.0,1435.6 L1215.0,1435.4 L1216.0,1435.1 L1217.0,1434.9 L1218.0,1434.7 L1219.0,1434.5 L1220.0,1434.2 L1221.0,1434.0 L1222.0,1433.8 L1223.0,1433.6 L1224.0,1433.4 L1225.0,1433.1 L1226.0,1432.9 L1227.0,1432.7 L1228.0,1432.5 L1229.0,1432.3 L1230.0,1432.1 L1231.0,1431.9 L1232.0,1431.7 L1233.0,1431.5 L1234.0,1431.3 L1235.0,1431.1 L1236.0,1430.9 L1237.0,1430.7 L1238.0,1430.5 L1239.0,1430.3 L1240.0,1430.1 L1241.0,1429.9 L1242.0,1429.7 L1243.0,1429.5 L1244.0,1429.3 L1245.0,1429.1 L1246.0,1428.9 L1247.0,1428.7 L1248.0,1428.5 L1249.0,1428.3 L1250.0,1428.1 L1251.0,1428.0 L1252.0,1427.8 L1253.0,1427.6 L1254.0,1427.4 L1255.0,1427.2 L1256.0,1427.1 L1257.0,1426.9 L1258.0,1426.7 L1259.0,1426.5 L1260.0,1426.4 L1261.0,1426.2 L1262.0,1426.0 L1263.0,1425.8 L1264.0,1425.7 L1265.0,1425.5 L1266.0,1425.3 L1267.0,1425.2 L1268.0,1425.0 L1269.0,1424.9 L1270.0,1424.7 L1271.0,1424.5 L1272.0,1424.4 L1273.0,1424.2 L1274.0,1424.1 L1275.0,1423.9 L1276.0,1423.7 L1277.0,1423.6 L1278.0,1423.4 L1279.0,1423.3 L1280.0,1423.1 L1281.0,1423.0 L1282.0,1422.8 L1283.0,1422.7 L1284.0,1422.6 L1285.0,1422.4 L1286.0,1422.3 L1287.0,1422.1 L1288.0,1422.0 L1289.0,1421.9 L1290.0,1421.7 L1291.0,1421.6 L1292.0,1421.4 L1293.0,1421.3 L1294.0,1421.2 L1295.0,1421.0 L1296.0,1420.9 L1297.0,1420.8 L1298.0,1420.7 L1299.0,1420.5 L1300.0,1420.4 L1301.0,1420.3 L1302.0,1420.2 L1303.0,1420.0 L1304.0,1419.9 L1305.0,1419.8 L1306.0,1419.7 L1307.0,1419.6 L1308.0,1419.4 L1309.0,1419.3 L1310.0,1419.2 L1311.0,1419.1 L1312.0,1419.0 L1313.0,1418.9 L1314.0,1418.8 L1315.0,1418.7 L1316.0,1418.6 L1317.0,1418.4 L1318.0,1418.3 L1319.0,1418.2 L1320.0,1418.1 L1321.0,1418.0 L1322.0,1417.9 L1323.0,1417.8 L1324.0,1417.7 L1325.0,1417.6 L1326.0,1417.5 L1327.0,1417.5 L1328.0,1417.4 L1329.0,1417.3 L1330.0,1417.2 L1331.0,1417.1 L1332.0,1417.0 L1333.0,1416.9 L1334.0,1416.8 L1335.0,1416.7 L1336.0,1416.7 L1337.0,1416.6 L1338.0,1416.5 L1339.0,1416.4 L1340.0,1416.3 L1341.0,1416.3 L1342.0,1416.2 L1343.0,1416.1 L1344.0,1416.0 L1345.0,1416.0 L1346.0,1415.9 L1347.0,1415.8 L1348.0,1415.8 L1349.0,1415.7 L1350.0,1415.6 L1351.0,1415.5 L1352.0,1415.5 L1353.0,1415.4 L1354.0,1415.4 L1355.0,1415.3 L1356.0,1415.2 L1357.0,1415.2 L1358.0,1415.1 L1359.0,1415.1 L1360.0,1415.0 L1361.0,1415.0 L1362.0,1414.9 L1363.0,1414.8 L1364.0,1414.8 L1365.0,1414.7 L1366.0,1414.7 L1367.0,1414.7 L1368.0,1414.6 L1369.0,1414.6 L1370.0,1414.5 L1371.0,1414.5 L1372.0,1414.4 L1373.0,1414.4 L1374.0,1414.3 L1375.0,1414.3 L1376.0,1414.3 L1377.0,1414.2 L1378.0,1414.2 L1379.0,1414.2 L1380.0,1414.1 L1381.0,1414.1 L1382.0,1414.1 L1383.0,1414.0 L1384.0,1414.0 L1385.0,1414.0 L1386.0,1414.0 L1387.0,1413.9 L1388.0,1413.9 L1389.0,1413.9 L1390.0,1413.9 L1391.0,1413.9 L1392.0,1413.8 L1393.0,1413.8 L1394.0,1413.8 L1395.0,1413.8 L1396.0,1413.8 L1397.0,1413.8 L1398.0,1413.7 L1399.0,1413.7 L1400.0,1413.7 L1401.0,1413.7 L1402.0,1413.7 L1403.0,1413.7 L1404.0,1413.7 L1405.0,1413.7 L1406.0,1413.7 L1407.0,1413.7 L1408.0,1413.7 L1409.0,1413.7 L1410.0,1413.7 L1411.0,1413.7 L1412.0,1413.7 L1413.0,1413.7 L1414.0,1413.7 L1415.0,1413.7 L1416.0,1413.7 L1417.0,1413.7 L1418.0,1413.7 L1419.0,1413.8 L1420.0,1413.8 L1421.0,1413.8 L1422.0,1413.8 L1423.0,1413.8 L1424.0,1413.8 L1425.0,1413.8 L1426.0,1413.9 L1427.0,1413.9 L1428.0,1413.9 L1429.0,1413.9 L1430.0,1413.9 L1431.0,1414.0 L1432.0,1414.0 L1433.0,1414.0 L1434.0,1414.0 L1435.0,1414.1 L1436.0,1414.1 L1437.0,1414.1 L1438.0,1414.2 L1439.0,1414.2 L1440.0,1414.2 L1441.0,1414.3 L1442.0,1414.3 L1443.0,1414.3 L1444.0,1414.4 L1445.0,1414.4 L1446.0,1414.4 L1447.0,1414.5 L1448.0,1414.5 L1449.0,1414.5 L1450.0,1414.6 L1451.0,1414.6 L1452.0,1414.7 L1453.0,1414.7 L1454.0,1414.7 L1455.0,1414.8 L1456.0,1414.8 L1457.0,1414.9 L1458.0,1414.9 L1459.0,1415.0 L1460.0,1415.0 L1461.0,1415.1 L1462.0,1415.1 L1463.0,1415.1 L1464.0,1415.2 L1465.0,1415.2 L1466.0,1415.3 L1467.0,1415.3 L1468.0,1415.4 L1469.0,1415.4 L1470.0,1415.5 L1471.0,1415.5 L1472.0,1415.6 L1473.0,1415.6 L1474.0,1415.7 L1475.0,1415.7 L1476.0,1415.8 L1477.0,1415.9 L1478.0,1415.9 L1479.0,1416.0 L1480.0,1416.0 L1481.0,1416.1 L1482.0,1416.1 L1483.0,1416.2 L1484.0,1416.2 L1485.0,1416.3 L1486.0,1416.3 L1487.0,1416.4 L1488.0,1416.5 L1489.0,1416.5 L1490.0,1416.6 L1491.0,1416.6 L1492.0,1416.7 L1493.0,1416.7 L1494.0,1416.8 L1495.0,1416.9 L1496.0,1416.9 L1497.0,1417.0 L1498.0,1417.0 L1499.0,1417.1 L1500.0,1417.1 L1501.0,1417.2 L1502.0,1417.3 L1503.0,1417.3 L1504.0,1417.4 L1505.0,1417.4 L1506.0,1417.5 L1507.0,1417.6 L1508.0,1417.6 L1509.0,1417.7 L1510.0,1417.7 L1511.0,1417.8 L1512.0,1417.8 L1513.0,1417.9 L1514.0,1418.0 L1515.0,1418.0 L1516.0,1418.1 L1517.0,1418.1 L1518.0,1418.2 L1519.0,1418.3 L1520.0,1418.3 L1521.0,1418.4 L1522.0,1418.4 L1523.0,1418.5 L1524.0,1418.5 L1525.0,1418.6 L1526.0,1418.6 L1527.0,1418.7 L1528.0,1418.8 L1529.0,1418.8 L1530.0,1418.9 L1531.0,1418.9 L1532.0,1419.0 L1533.0,1419.0 L1534.0,1419.1 L1535.0,1419.1 L1536.0,1419.2 L1537.0,1419.2 L1538.0,1419.3 L1539.0,1419.3 L1540.0,1419.4 L1541.0,1419.4 L1542.0,1419.5 L1543.0,1419.5 L1544.0,1419.6 L1545.0,1419.6 L1546.0,1419.7 L1547.0,1419.7 L1548.0,1419.8 L1549.0,1419.8 L1550.0,1419.9 L1551.0,1419.9 L1552.0,1420.0 L1553.0,1420.0 L1554.0,1420.1 L1555.0,1420.1 L1556.0,1420.1 L1557.0,1420.2 L1558.0,1420.2 L1559.0,1420.3 L1560.0,1420.3 L1561.0,1420.4 L1562.0,1420.4 L1563.0,1420.4 L1564.0,1420.5 L1565.0,1420.5 L1566.0,1420.5 L1567.0,1420.6 L1568.0,1420.6 L1569.0,1420.6 L1570.0,1420.7 L1571.0,1420.7 L1572.0,1420.7 L1573.0,1420.8 L1574.0,1420.8 L1575.0,1420.8 L1576.0,1420.9 L1577.0,1420.9 L1578.0,1420.9 L1579.0,1420.9 L1580.0,1421.0 L1581.0,1421.0 L1582.0,1421.0" fill="none" stroke="#0000ff" stroke-width="4.4" stroke-linejoin="round"/>
<path d="M601.6,281.5 L602.6,281.4 L603.6,281.4 L604.6,281.3 L605.6,281.3 L606.6,281.2 L607.6,281.2 L608.6,281.1 L609.6,281.1 L610.6,281.0 L611.6,281.0 L612.6,280.9 L613.6,280.9 L614.6,280.8 L615.6,280.8 L616.6,280.7 L617.6,280.7 L618.6,280.6 L619.6,280.6 L620.6,280.5 L621.6,280.5 L622.6,280.4 L623.6,280.4 L624.6,280.4 L625.6,280.3 L626.6,280.3 L627.6,280.2 L628.6,280.2 L629.6,280.2 L630.6,280.1 L631.6,280.1 L632.6,280.1 L633.6,280.0 L634.6,280.0 L635.6,280.0 L636.6,279.9 L637.6,279.9 L638.6,279.9 L639.6,279.9 L640.6,279.8 L641.6,279.8 L642.6,279.8 L643.6,279.7 L644.6,279.7 L645.6,279.7 L646.6,279.7 L647.6,279.6 L648.6,279.6 L649.6,279.6 L650.6,279.6 L651.6,279.5 L652.6,279.5 L653.6,279.5 L654.6,279.5 L655.6,279.5 L656.6,279.4 L657.6,279.4 L658.6,279.4 L659.6,279.4 L660.6,279.4 L661.6,279.3 L662.6,279.3 L663.6,279.3 L664.6,279.3 L665.6,279.3 L666.6,279.3 L667.6,279.2 L668.6,279.2 L669.6,279.2 L670.6,279.2 L671.6,279.2 L672.6,279.2 L673.6,279.2 L674.6,279.1 L675.6,279.1 L676.6,279.1 L677.6,279.1 L678.6,279.1 L679.6,279.1 L680.6,279.1 L681.6,279.1 L682.6,279.1 L683.6,279.0 L684.6,279.0 L685.6,279.0 L686.6,279.0 L687.6,279.0 L688.6,279.0 L689.6,279.0 L690.6,279.0 L691.6,279.0 L692.6,278.9 L693.6,278.9 L694.6,278.9 L695.6,278.9 L696.6,278.9 L697.6,278.9 L698.6,278.9 L699.6,278.9 L700.6,278.9 L701.6,278.9 L702.6,278.9 L703.6,278.8 L704.6,278.8 L705.6,278.8 L706.6,278.8 L707.6,278.8 L708.6,278.8 L709.6,278.8 L710.6,278.8 L711.6,278.8 L712.6,278.8 L713.6,278.7 L714.6,278.7 L715.6,278.7 L716.6,278.7 L717.6,278.7 L718.6,278.7 L719.6,278.7 L720.6,278.7 L721.6,278.7 L722.6,278.7 L723.6,278.6 L724.6,278.6 L725.6,278.6 L726.6,278.6 L727.6,278.6 L728.6,278.6 L729.6,278.6 L730.6,278.6 L731.6,278.5 L732.6,278.5 L733.6,278.5 L734.6,278.5 L735.6,278.5 L736.6,278.5 L737.6,278.5 L738.6,278.4 L739.6,278.4 L740.6,278.4 L741.6,278.4 L742.6,278.4 L743.6,278.4 L744.6,278.3 L745.6,278.3 L746.6,278.3 L747.6,278.3 L748.6,278.3 L749.6,278.2 L750.6,278.2 L751.6,278.2 L752.6,278.2 L753.6,278.1 L754.6,278.1 L755.6,278.1 L756.6,278.1 L757.6,278.1 L758.6,278.0 L759.6,278.0 L760.6,278.0 L761.6,277.9 L762.6,277.9 L763.6,277.9 L764.6,277.9 L765.6,277.8 L766.6,277.8 L767.6,277.8 L768.6,277.7 L769.6,277.7 L770.6,277.7 L771.6,277.6 L772.6,277.6 L773.6,277.6 L774.6,277.5 L775.6,277.5 L776.6,277.5 L777.6,277.4 L778.6,277.4 L779.6,277.4 L780.6,277.3 L781.6,277.3 L782.6,277.2 L783.6,277.2 L784.6,277.1 L785.6,277.1 L786.6,277.1 L787.6,277.0 L788.6,277.0 L789.6,276.9 L790.6,276.9 L791.6,276.8 L792.6,276.8 L793.6,276.7 L794.6,276.7 L795.6,276.6 L796.6,276.6 L797.6,276.5 L798.6,276.4 L799.6,276.4 L800.6,276.3 L801.6,276.3 L802.6,276.2 L803.6,276.2 L804.6,276.1 L805.6,276.0 L806.6,276.0 L807.6,275.9 L808.6,275.8 L809.6,275.8 L810.6,275.7 L811.6,275.6 L812.6,275.6 L813.6,275.5 L814.6,275.4 L815.6,275.3 L816.6,275.3 L817.6,275.2 L818.6,275.1 L819.6,275.0 L820.6,275.0 L821.6,274.9 L822.6,274.8 L823.6,274.7 L824.6,274.6 L825.6,274.5 L826.6,274.5 L827.6,274.4 L828.6,274.3 L829.6,274.2 L830.6,274.1 L831.6,274.0 L832.6,273.9 L833.6,273.8 L834.6,273.7 L835.6,273.6 L836.6,273.5 L837.6,273.4 L838.6,273.3 L839.6,273.2 L840.6,273.1 L841.6,273.0 L842.6,272.9 L843.6,272.8 L844.6,272.7 L845.6,272.6 L846.6,272.4 L847.6,272.3 L848.6,272.2 L849.6,272.1 L850.6,272.0 L851.6,271.8 L852.6,271.7 L853.6,271.6 L854.6,271.5 L855.6,271.3 L856.6,271.2 L857.6,271.1 L858.6,271.0 L859.6,270.8 L860.6,270.7 L861.6,270.6 L862.6,270.4 L863.6,270.3 L864.6,270.1 L865.6,270.0 L866.6,269.8 L867.6,269.7 L868.6,269.5 L869.6,269.4 L870.6,269.2 L871.6,269.1 L872.6,268.9 L873.6,268.8 L874.6,268.6 L875.6,268.5 L876.6,268.3 L877.6,268.1 L878.6,268.0 L879.6,267.8 L880.6,267.6 L881.6,267.5 L882.6,267.3 L883.6,267.1 L884.6,266.9 L885.6,266.8 L886.6,266.6 L887.6,266.4 L888.6,266.2 L889.6,266.0 L890.6,265.8 L891.6,265.7 L892.6,265.5 L893.6,265.3 L894.6,265.1 L895.6,264.9 L896.6,264.7 L897.6,264.5 L898.6,264.3 L899.6,264.1 L900.6,263.9 L901.6,263.6 L902.6,263.4 L903.6,263.2 L904.6,263.0 L905.6,262.8 L906.6,262.6 L907.6,262.4 L908.6,262.1 L909.6,261.9 L910.6,261.7 L911.6,261.4 L912.6,261.2 L913.6,261.0 L914.6,260.7 L915.6,260.5 L916.6,260.3 L917.6,260.0 L918.6,259.8 L919.6,259.5 L920.6,259.3 L921.6,259.0 L922.6,258.8 L923.6,258.5 L924.6,258.3 L925.6,258.0 L926.6,257.7 L927.6,257.5 L928.6,257.2 L929.6,256.9 L930.6,256.7 L931.6,256.4 L932.6,256.1 L933.6,255.8 L934.6,255.5 L935.6,255.3 L936.6,255.0 L937.6,254.7 L938.6,254.4 L939.6,254.1 L940.6,253.8 L941.6,253.5 L942.6,253.2 L943.6,252.9 L944.6,252.6 L945.6,252.3 L946.6,251.9 L947.6,251.6 L948.6,251.3 L949.6,251.0 L950.6,250.7 L951.6,250.3 L952.6,250.0 L953.6,249.6 L954.6,249.3 L955.6,249.0 L956.6,248.6 L957.6,248.3 L958.6,247.9 L959.6,247.5 L960.6,247.2 L961.6,246.8 L962.6,246.4 L963.6,246.1 L964.6,245.7 L965.6,245.3 L966.6,244.9 L967.6,244.5 L968.6,244.1 L969.6,243.8 L970.6,243.4 L971.6,243.0 L972.6,242.5 L973.6,242.1 L974.6,241.7 L975.6,241.3 L976.6,240.9 L977.6,240.4 L978.6,240.0 L979.6,239.6 L980.6,239.1 L981.6,238.7 L982.6,238.2 L983.6,237.8 L984.6,237.3 L985.6,236.9 L986.6,236.4 L987.6,235.9 L988.6,235.4 L989.6,235.0 L990.6,234.5 L991.6,234.0 L992.6,233.5 L993.6,233.0 L994.6,232.5 L995.6,232.0 L996.6,231.5 L997.6,231.0 L998.6,230.4 L999.6,229.9 L1000.6,229.4 L1001.6,228.8 L1002.6,228.3 L1003.6,227.7 L1004.6,227.2 L1005.6,226.6 L1006.6,226.1 L1007.6,225.5 L1008.6,224.9 L1009.6,224.3 L1010.6,223.7 L1011.6,223.2 L1012.6,222.6 L1013.6,222.0 L1014.6,221.4 L1015.6,220.8 L1016.6,220.2 L1017.6,219.6 L1018.6,219.0 L1019.6,218.4 L1020.6,217.7 L1021.6,217.1 L1022.6,216.5 L1023.6,215.9 L1024.6,215.3 L1025.6,214.7 L1026.6,214.1 L1027.6,213.5 L1028.6,212.9 L1029.6,212.2 L1030.6,211.6 L1031.6,211.0 L1032.6,210.4 L1033.6,209.8 L1034.6,209.2 L1035.6,208.6 L1036.6,208.0 L1037.6,207.5 L1038.6,206.9 L1039.6,206.3 L1040.6,205.7 L1041.6,205.1 L1042.6,204.6 L1043.6,204.0 L1044.6,203.4 L1045.6,202.9 L1046.6,202.4 L1047.6,201.8 L1048.6,201.3 L1049.6,200.8 L1050.6,200.2 L1051.6,199.7 L1052.6,199.2 L1053.6,198.7 L1054.6,198.2 L1055.6,197.8 L1056.6,197.3 L1057.6,196.8 L1058.6,196.4 L1059.6,195.9 L1060.6,195.5 L1061.6,195.1 L1062.6,194.7 L1063.6,194.3 L1064.6,193.9 L1065.6,193.5 L1066.6,193.1 L1067.6,192.8 L1068.6,192.5 L1069.6,192.1 L1070.6,191.8 L1071.6,191.5 L1072.6,191.2 L1073.6,190.9 L1074.6,190.7 L1075.6,190.4 L1076.6,190.2 L1077.6,190.0 L1078.6,189.8 L1079.6,189.6 L1080.6,189.4 L1081.6,189.3 L1082.6,189.1 L1083.6,189.0 L1084.6,188.9 L1085.6,188.8 L1086.6,188.7 L1087.6,188.7 L1088.6,188.6 L1089.6,188.6 L1090.6,188.6 L1091.6,188.6 L1092.6,188.7 L1093.6,188.8 L1094.6,189.0 L1095.6,189.2 L1096.6,189.4 L1097.6,189.7 L1098.6,190.0 L1099.6,190.3 L1100.6,190.6 L1101.6,191.0 L1102.6,191.4 L1103.6,191.8 L1104.6,192.2 L1105.6,192.6 L1106.6,193.1 L1107.6,193.6 L1108.6,194.1 L1109.6,194.6 L1110.6,195.2 L1111.6,195.7 L1112.6,196.3 L1113.6,196.9 L1114.6,197.5 L1115.6,198.1 L1116.6,198.8 L1117.6,199.4 L1118.6,200.1 L1119.6,200.8 L1120.6,201.4 L1121.6,202.1 L1122.6,202.8 L1123.6,203.5 L1124.6,204.2 L1125.6,205.0 L1126.6,205.7 L1127.6,206.4 L1128.6,207.2 L1129.6,207.9 L1130.6,208.7 L1131.6,209.4 L1132.6,210.2 L1133.6,210.9 L1134.6,211.7 L1135.6,212.4 L1136.6,213.2 L1137.6,213.9 L1138.6,214.7 L1139.6,215.4 L1140.6,216.2 L1141.6,216.9 L1142.6,217.7 L1143.6,218.4 L1144.6,219.2 L1145.6,219.9 L1146.6,220.6 L1147.6,221.4 L1148.6,222.1 L1149.6,222.8 L1150.6,223.6 L1151.6,224.3 L1152.6,225.0 L1153.6,225.7 L1154.6,226.4 L1155.6,227.1 L1156.6,227.8 L1157.6,228.5 L1158.6,229.2 L1159.6,229.9 L1160.6,230.5 L1161.6,231.2 L1162.6,231.9 L1163.6,232.5 L1164.6,233.1 L1165.6,233.8 L1166.6,234.4 L1167.6,235.0 L1168.6,235.7 L1169.6,236.3 L1170.6,236.9 L1171.6,237.4 L1172.6,238.0 L1173.6,238.6 L1174.6,239.2 L1175.6,239.7 L1176.6,240.3 L1177.6,240.8 L1178.6,241.3 L1179.6,241.8 L1180.6,242.4 L1181.6,242.9 L1182.6,243.4 L1183.6,243.8 L1184.6,244.3 L1185.6,244.8 L1186.6,245.3 L1187.6,245.7 L1188.6,246.2 L1189.6,246.6 L1190.6,247.1 L1191.6,247.5 L1192.6,247.9 L1193.6,248.3 L1194.6,248.7 L1195.6,249.1 L1196.6,249.5 L1197.6,249.9 L1198.6,250.3 L1199.6,250.7 L1200.6,251.0 L1201.6,251.4 L1202.6,251.7 L1203.6,252.1 L1204.6,252.4 L1205.6,252.8 L1206.6,253.1 L1207.6,253.4 L1208.6,253.7 L1209.6,254.0 L1210.6,254.3 L1211.6,254.6 L1212.6,254.9 L1213.6,255.2 L1214.6,255.5 L1215.6,255.8 L1216.6,256.1 L1217.6,256.3 L1218.6,256.6 L1219.6,256.8 L1220.6,257.1 L1221.6,257.3 L1222.6,257.6 L1223.6,257.8 L1224.6,258.1 L1225.6,258.3 L1226.6,258.5 L1227.6,258.7 L1228.6,259.0 L1229.6,259.2 L1230.6,259.4 L1231.6,259.6 L1232.6,259.8 L1233.6,260.0 L1234.6,260.2 L1235.6,260.4 L1236.6,260.6 L1237.6,260.7 L1238.6,260.9 L1239.6,261.1 L1240.6,261.3 L1241.6,261.4 L1242.6,261.6 L1243.6,261.8 L1244.6,261.9 L1245.6,262.1 L1246.6,262.2 L1247.6,262.4 L1248.6,262.5 L1249.6,262.7 L1250.6,262.8 L1251.6,263.0 L1252.6,263.1 L1253.6,263.3 L1254.6,263.4 L1255.6,263.5 L1256.6,263.7 L1257.6,263.8 L1258.6,263.9 L1259.6,264.1 L1260.6,264.2 L1261.6,264.3 L1262.6,264.4 L1263.6,264.6 L1264.6,264.7 L1265.6,264.8 L1266.6,264.9 L1267.6,265.0 L1268.6,265.1 L1269.6,265.3 L1270.6,265.4 L1271.6,265.5 L1272.6,265.6 L1273.6,265.7 L1274.6,265.8 L1275.6,265.9 L1276.6,266.1 L1277.6,266.2 L1278.6,266.3 L1279.6,266.4 L1280.6,266.5 L1281.6,266.6 L1282.6,266.7 L1283.6,266.8 L1284.6,266.9 L1285.6,267.0 L1286.6,267.1 L1287.6,267.2 L1288.6,267.3 L1289.6,267.4 L1290.6,267.5 L1291.6,267.6 L1292.6,267.7 L1293.6,267.8 L1294.6,267.9 L1295.6,268.0 L1296.6,268.1 L1297.6,268.2 L1298.6,268.3 L1299.6,268.4 L1300.6,268.5 L1301.6,268.6 L1302.6,268.7 L1303.6,268.8 L1304.6,268.9 L1305.6,269.0 L1306.6,269.1 L1307.6,269.2 L1308.6,269.3 L1309.6,269.4 L1310.6,269.4 L1311.6,269.5 L1312.6,269.6 L1313.6,269.7 L1314.6,269.8 L1315.6,269.9 L1316.6,270.0 L1317.6,270.1 L1318.6,270.1 L1319.6,270.2 L1320.6,270.3 L1321.6,270.4 L1322.6,270.5 L1323.6,270.5 L1324.6,270.6 L1325.6,270.7 L1326.6,270.8 L1327.6,270.9 L1328.6,270.9 L1329.6,271.0 L1330.6,271.1 L1331.6,271.2 L1332.6,271.3 L1333.6,271.3 L1334.6,271.4 L1335.6,271.5 L1336.6,271.6 L1337.6,271.6 L1338.6,271.7 L1339.6,271.8 L1340.6,271.8 L1341.6,271.9 L1342.6,272.0 L1343.6,272.1 L1344.6,272.1 L1345.6,272.2 L1346.6,272.3 L1347.6,272.3 L1348.6,272.4 L1349.6,272.5 L1350.6,272.5 L1351.6,272.6 L1352.6,272.7 L1353.6,272.7 L1354.6,272.8 L1355.6,272.9 L1356.6,272.9 L1357.6,273.0 L1358.6,273.1 L1359.6,273.1 L1360.6,273.2 L1361.6,273.2 L1362.6,273.3 L1363.6,273.4 L1364.6,273.4 L1365.6,273.5 L1366.6,273.5 L1367.6,273.6 L1368.6,273.7 L1369.6,273.7 L1370.6,273.8 L1371.6,273.8 L1372.6,273.9 L1373.6,273.9 L1374.6,274.0 L1375.6,274.1 L1376.6,274.1 L1377.6,274.2 L1378.6,274.2 L1379.6,274.3 L1380.6,274.3 L1381.6,274.4 L1382.6,274.4 L1383.6,274.5 L1384.6,274.5 L1385.6,274.6 L1386.6,274.6 L1387.6,274.7 L1388.6,274.7 L1389.6,274.8 L1390.6,274.8 L1391.6,274.9 L1392.6,274.9 L1393.6,275.0 L1394.6,275.0 L1395.6,275.1 L1396.6,275.1 L1397.6,275.2 L1398.6,275.2 L1399.6,275.3 L1400.6,275.3 L1401.6,275.3 L1402.6,275.4 L1403.6,275.4 L1404.6,275.5 L1405.6,275.5 L1406.6,275.6 L1407.6,275.6 L1408.6,275.7 L1409.6,275.7 L1410.6,275.7 L1411.6,275.8 L1412.6,275.8 L1413.6,275.9 L1414.6,275.9 L1415.6,275.9 L1416.6,276.0 L1417.6,276.0 L1418.6,276.1 L1419.6,276.1 L1420.6,276.1 L1421.6,276.2 L1422.6,276.2 L1423.6,276.3 L1424.6,276.3 L1425.6,276.3 L1426.6,276.4 L1427.6,276.4 L1428.6,276.4 L1429.6,276.5 L1430.6,276.5 L1431.6,276.6 L1432.6,276.6 L1433.6,276.6 L1434.6,276.7 L1435.6,276.7 L1436.6,276.7 L1437.6,276.8 L1438.6,276.8 L1439.6,276.8 L1440.6,276.9 L1441.6,276.9 L1442.6,276.9 L1443.6,277.0 L1444.6,277.0 L1445.6,277.0 L1446.6,277.1 L1447.6,277.1 L1448.6,277.1 L1449.6,277.2 L1450.6,277.2 L1451.6,277.2 L1452.6,277.3 L1453.6,277.3 L1454.6,277.3 L1455.6,277.4 L1456.6,277.4 L1457.6,277.4 L1458.6,277.4 L1459.6,277.5 L1460.6,277.5 L1461.6,277.5 L1462.6,277.6 L1463.6,277.6 L1464.6,277.6 L1465.6,277.7 L1466.6,277.7 L1467.6,277.7 L1468.6,277.7 L1469.6,277.8 L1470.6,277.8 L1471.6,277.8 L1472.6,277.8 L1473.6,277.9 L1474.6,277.9 L1475.6,277.9 L1476.6,278.0 L1477.6,278.0 L1478.6,278.0 L1479.6,278.0 L1480.6,278.1 L1481.6,278.1 L1482.6,278.1 L1483.6,278.1 L1484.6,278.2 L1485.6,278.2 L1486.6,278.2 L1487.6,278.3 L1488.6,278.3 L1489.6,278.3 L1490.6,278.3 L1491.6,278.4 L1492.6,278.4 L1493.6,278.4 L1494.6,278.4 L1495.6,278.5 L1496.6,278.5 L1497.6,278.5 L1498.6,278.5 L1499.6,278.6 L1500.6,278.6 L1501.6,278.6 L1502.6,278.6 L1503.6,278.7 L1504.6,278.7 L1505.6,278.7 L1506.6,278.7 L1507.6,278.8 L1508.6,278.8 L1509.6,278.8 L1510.6,278.8 L1511.6,278.9 L1512.6,278.9 L1513.5,278.9" fill="none" stroke="#ff0000" stroke-width="4.2" stroke-linejoin="round"/>
<path d="M601.6,500.4 L602.6,500.4 L603.6,500.4 L604.6,500.3 L605.6,500.3 L606.6,500.3 L607.6,500.3 L608.6,500.3 L609.6,500.2 L610.6,500.2 L611.6,500.2 L612.6,500.2 L613.6,500.2 L614.6,500.1 L615.6,500.1 L616.6,500.1 L617.6,500.1 L618.6,500.1 L619.6,500.1 L620.6,500.0 L621.6,500.0 L622.6,500.0 L623.6,500.0 L624.6,500.0 L625.6,500.0 L626.6,499.9 L627.6,499.9 L628.6,499.9 L629.6,499.9 L630.6,499.9 L631.6,499.9 L632.6,499.9 L633.6,499.9 L634.6,499.8 L635.6,499.8 L636.6,499.8 L637.6,499.8 L638.6,499.8 L639.6,499.8 L640.6,499.8 L641.6,499.7 L642.6,499.7 L643.6,499.7 L644.6,499.7 L645.6,499.7 L646.6,499.7 L647.6,499.7 L648.6,499.6 L649.6,499.6 L650.6,499.6 L651.6,499.6 L652.6,499.6 L653.6,499.6 L654.6,499.5 L655.6,499.5 L656.6,499.5 L657.6,499.5 L658.6,499.5 L659.6,499.5 L660.6,499.4 L661.6,499.4 L662.6,499.4 L663.6,499.4 L664.6,499.4 L665.6,499.3 L666.6,499.3 L667.6,499.3 L668.6,499.3 L669.6,499.3 L670.6,499.2 L671.6,499.2 L672.6,499.2 L673.6,499.2 L674.6,499.1 L675.6,499.1 L676.6,499.1 L677.6,499.1 L678.6,499.0 L679.6,499.0 L680.6,499.0 L681.6,499.0 L682.6,498.9 L683.6,498.9 L684.6,498.9 L685.6,498.8 L686.6,498.8 L687.6,498.8 L688.6,498.7 L689.6,498.7 L690.6,498.7 L691.6,498.6 L692.6,498.6 L693.6,498.5 L694.6,498.5 L695.6,498.5 L696.6,498.4 L697.6,498.4 L698.6,498.3 L699.6,498.3 L700.6,498.2 L701.6,498.2 L702.6,498.1 L703.6,498.1 L704.6,498.0 L705.6,498.0 L706.6,497.9 L707.6,497.9 L708.6,497.8 L709.6,497.8 L710.6,497.7 L711.6,497.7 L712.6,497.6 L713.6,497.6 L714.6,497.5 L715.6,497.4 L716.6,497.4 L717.6,497.3 L718.6,497.2 L719.6,497.2 L720.6,497.1 L721.6,497.0 L722.6,497.0 L723.6,496.9 L724.6,496.8 L725.6,496.7 L726.6,496.7 L727.6,496.6 L728.6,496.5 L729.6,496.4 L730.6,496.3 L731.6,496.3 L732.6,496.2 L733.6,496.1 L734.6,496.0 L735.6,495.9 L736.6,495.8 L737.6,495.7 L738.6,495.6 L739.6,495.5 L740.6,495.4 L741.6,495.3 L742.6,495.2 L743.6,495.1 L744.6,495.0 L745.6,494.9 L746.6,494.8 L747.6,494.7 L748.6,494.6 L749.6,494.5 L750.6,494.4 L751.6,494.2 L752.6,494.1 L753.6,494.0 L754.6,493.9 L755.6,493.8 L756.6,493.6 L757.6,493.5 L758.6,493.4 L759.6,493.2 L760.6,493.1 L761.6,493.0 L762.6,492.8 L763.6,492.7 L764.6,492.6 L765.6,492.4 L766.6,492.3 L767.6,492.1 L768.6,492.0 L769.6,491.8 L770.6,491.7 L771.6,491.5 L772.6,491.3 L773.6,491.2 L774.6,491.0 L775.6,490.9 L776.6,490.7 L777.6,490.5 L778.6,490.4 L779.6,490.2 L780.6,490.0 L781.6,489.8 L782.6,489.6 L783.6,489.5 L784.6,489.3 L785.6,489.1 L786.6,488.9 L787.6,488.7 L788.6,488.5 L789.6,488.3 L790.6,488.1 L791.6,487.9 L792.6,487.7 L793.6,487.5 L794.6,487.3 L795.6,487.1 L796.6,486.9 L797.6,486.7 L798.6,486.4 L799.6,486.2 L800.6,486.0 L801.6,485.8 L802.6,485.5 L803.6,485.3 L804.6,485.1 L805.6,484.8 L806.6,484.6 L807.6,484.4 L808.6,484.1 L809.6,483.9 L810.6,483.6 L811.6,483.4 L812.6,483.1 L813.6,482.8 L814.6,482.6 L815.6,482.3 L816.6,482.1 L817.6,481.8 L818.6,481.5 L819.6,481.2 L820.6,481.0 L821.6,480.7 L822.6,480.4 L823.6,480.1 L824.6,479.8 L825.6,479.5 L826.6,479.2 L827.6,478.9 L828.6,478.6 L829.6,478.3 L830.6,478.0 L831.6,477.7 L832.6,477.4 L833.6,477.1 L834.6,476.8 L835.6,476.4 L836.6,476.1 L837.6,475.8 L838.6,475.4 L839.6,475.1 L840.6,474.8 L841.6,474.4 L842.6,474.1 L843.6,473.7 L844.6,473.4 L845.6,473.0 L846.6,472.7 L847.6,472.3 L848.6,471.9 L849.6,471.6 L850.6,471.2 L851.6,470.8 L852.6,470.4 L853.6,470.1 L854.6,469.7 L855.6,469.3 L856.6,468.9 L857.6,468.5 L858.6,468.1 L859.6,467.7 L860.6,467.3 L861.6,466.8 L862.6,466.4 L863.6,466.0 L864.6,465.6 L865.6,465.1 L866.6,464.7 L867.6,464.2 L868.6,463.8 L869.6,463.3 L870.6,462.8 L871.6,462.4 L872.6,461.9 L873.6,461.4 L874.6,460.9 L875.6,460.4 L876.6,459.9 L877.6,459.4 L878.6,458.8 L879.6,458.3 L880.6,457.8 L881.6,457.2 L882.6,456.7 L883.6,456.1 L884.6,455.5 L885.6,454.9 L886.6,454.4 L887.6,453.8 L888.6,453.1 L889.6,452.5 L890.6,451.9 L891.6,451.3 L892.6,450.6 L893.6,450.0 L894.6,449.3 L895.6,448.6 L896.6,447.9 L897.6,447.2 L898.6,446.5 L899.6,445.8 L900.6,445.1 L901.6,444.3 L902.6,443.6 L903.6,442.8 L904.6,442.1 L905.6,441.3 L906.6,440.5 L907.6,439.7 L908.6,438.9 L909.6,438.0 L910.6,437.2 L911.6,436.3 L912.6,435.5 L913.6,434.6 L914.6,433.7 L915.6,432.8 L916.6,431.8 L917.6,430.9 L918.6,430.0 L919.6,429.0 L920.6,428.0 L921.6,427.0 L922.6,426.0 L923.6,425.0 L924.6,424.0 L925.6,423.0 L926.6,422.0 L927.6,420.9 L928.6,419.9 L929.6,418.8 L930.6,417.7 L931.6,416.7 L932.6,415.6 L933.6,414.5 L934.6,413.5 L935.6,412.4 L936.6,411.3 L937.6,410.2 L938.6,409.2 L939.6,408.1 L940.6,407.0 L941.6,405.9 L942.6,404.9 L943.6,403.8 L944.6,402.8 L945.6,401.7 L946.6,400.7 L947.6,399.6 L948.6,398.6 L949.6,397.6 L950.6,396.5 L951.6,395.5 L952.6,394.5 L953.6,393.6 L954.6,392.6 L955.6,391.6 L956.6,390.7 L957.6,389.7 L958.6,388.8 L959.6,387.9 L960.0,387.6 L960.2,387.4 L960.4,387.2 L960.6,387.0 L960.8,386.9 L961.0,386.7 L961.2,386.5 L961.4,386.3 L961.6,386.2 L961.8,386.0 L962.0,385.8 L962.2,385.7 L962.4,385.5 L962.6,385.3 L962.8,385.1 L963.0,385.0 L963.2,384.8 L963.4,384.6 L963.6,384.5 L963.8,384.3 L964.0,384.2 L964.2,384.0 L964.4,383.8 L964.6,383.7 L964.8,383.5 L965.0,383.4 L965.2,383.2 L965.4,383.0 L965.6,382.9 L965.8,382.7 L966.0,382.6 L966.2,382.4 L966.4,382.3 L966.6,382.1 L966.8,382.0 L967.0,381.8 L967.2,381.6 L967.4,381.5 L967.6,381.3 L967.8,381.2 L968.0,381.1 L968.2,380.9 L968.4,380.8 L968.6,380.6 L968.8,380.5 L969.0,380.3 L969.2,380.2 L969.4,380.1 L969.6,379.9 L969.8,379.8 L970.0,379.6 L970.2,379.5 L970.4,379.4 L970.6,379.2 L970.8,379.1 L971.0,379.0 L971.2,378.8 L971.4,378.7 L971.6,378.6 L971.8,378.4 L972.0,378.3 L972.2,378.2 L972.4,378.1 L972.6,377.9 L972.8,377.8 L973.0,377.7 L973.2,377.6 L973.4,377.4 L973.6,377.3 L973.8,377.2 L974.0,377.1 L974.2,377.0 L974.4,376.8 L974.6,376.7 L974.8,376.6 L975.0,376.5 L975.2,376.4 L975.4,376.3 L975.6,376.2 L975.8,376.1 L976.0,376.0 L976.2,375.9 L976.4,375.8 L976.6,375.6 L976.8,375.5 L977.0,375.4 L977.2,375.3 L977.4,375.2 L977.6,375.1 L977.8,375.0 L978.0,375.0 L978.2,374.9 L978.4,374.8 L978.6,374.7 L978.8,374.6 L979.0,374.5 L979.2,374.4 L979.4,374.3 L979.6,374.2 L979.8,374.1 L980.0,374.1 L980.2,374.0 L980.4,373.9 L980.6,373.8 L980.8,373.7 L981.0,373.7 L981.2,373.6 L981.4,373.5 L981.6,373.5 L981.8,373.5 L982.0,373.6 L982.2,373.6 L982.4,373.6 L982.6,373.7 L982.8,373.7 L983.0,373.8 L983.2,373.8 L983.4,373.9 L983.6,373.9 L983.8,374.0 L984.0,374.1 L984.2,374.1 L984.4,374.2 L984.6,374.3 L984.8,374.4 L985.0,374.5 L985.2,374.6 L985.4,374.6 L985.6,374.7 L985.8,374.8 L986.0,374.9 L986.2,375.0 L986.4,375.1 L986.6,375.3 L986.8,375.4 L987.0,375.5 L987.2,375.6 L987.4,375.7 L987.6,375.8 L987.8,376.0 L988.0,376.1 L988.2,376.2 L988.4,376.4 L988.6,376.5 L988.8,376.6 L989.0,376.8 L989.2,376.9 L989.4,377.1 L989.6,377.2 L989.8,377.4 L990.0,377.5 L990.2,377.7 L990.4,377.8 L990.6,378.0 L990.8,378.2 L991.0,378.3 L991.2,378.5 L991.4,378.7 L991.6,378.8 L991.8,379.0 L992.0,379.2 L992.2,379.4 L992.4,379.5 L992.6,379.7 L992.8,379.9 L993.0,380.1 L993.2,380.3 L993.4,380.4 L993.6,380.6 L993.8,380.8 L994.0,381.0 L994.2,381.2 L994.4,381.4 L994.6,381.6 L994.8,381.8 L995.0,382.0 L995.2,382.2 L995.4,382.4 L995.6,382.6 L995.8,382.8 L996.0,383.0 L996.2,383.2 L996.4,383.4 L996.6,383.6 L996.8,383.8 L997.0,384.0 L997.2,384.2 L997.4,384.4 L997.6,384.6 L997.8,384.8 L998.0,385.0 L998.2,385.2 L998.4,385.5 L998.6,385.7 L998.8,385.9 L999.0,386.1 L999.2,386.3 L999.4,386.5 L999.6,386.7 L999.8,386.9 L1000.6,387.8 L1001.6,388.9 L1002.6,390.0 L1003.6,391.1 L1004.6,392.2 L1005.6,393.3 L1006.6,394.4 L1007.6,395.5 L1008.6,396.7 L1009.6,397.8 L1010.6,398.9 L1011.6,400.1 L1012.6,401.2 L1013.6,402.3 L1014.6,403.5 L1015.6,404.6 L1016.6,405.7 L1017.6,406.8 L1018.6,407.9 L1019.6,409.0 L1020.6,410.1 L1021.6,411.2 L1022.6,412.3 L1023.6,413.3 L1024.6,414.4 L1025.6,415.4 L1026.6,416.4 L1027.6,417.4 L1028.6,418.4 L1029.6,419.4 L1030.6,420.4 L1031.6,421.4 L1032.6,422.3 L1033.6,423.3 L1034.6,424.2 L1035.6,425.1 L1036.6,426.0 L1037.6,427.0 L1038.6,427.8 L1039.6,428.7 L1040.6,429.6 L1041.6,430.5 L1042.6,431.3 L1043.6,432.2 L1044.6,433.0 L1045.6,433.8 L1046.6,434.6 L1047.6,435.4 L1048.6,436.2 L1049.6,437.0 L1050.6,437.8 L1051.6,438.6 L1052.6,439.3 L1053.6,440.1 L1054.6,440.8 L1055.6,441.6 L1056.6,442.3 L1057.6,443.0 L1058.6,443.7 L1059.6,444.4 L1060.6,445.1 L1061.6,445.8 L1062.6,446.4 L1063.6,447.1 L1064.6,447.8 L1065.6,448.4 L1066.6,449.1 L1067.6,449.7 L1068.6,450.3 L1069.6,450.9 L1070.6,451.5 L1071.6,452.1 L1072.6,452.7 L1073.6,453.3 L1074.6,453.9 L1075.6,454.5 L1076.6,455.0 L1077.6,455.6 L1078.6,456.1 L1079.6,456.7 L1080.6,457.2 L1081.6,457.7 L1082.6,458.3 L1083.6,458.8 L1084.6,459.3 L1085.6,459.8 L1086.6,460.3 L1087.6,460.8 L1088.6,461.3 L1089.6,461.7 L1090.6,462.2 L1091.6,462.7 L1092.6,463.1 L1093.6,463.6 L1094.6,464.0 L1095.6,464.5 L1096.6,464.9 L1097.6,465.3 L1098.6,465.8 L1099.6,466.2 L1100.6,466.6 L1101.6,467.0 L1102.6,467.4 L1103.6,467.8 L1104.6,468.2 L1105.6,468.5 L1106.6,468.9 L1107.6,469.3 L1108.6,469.7 L1109.6,470.0 L1110.6,470.4 L1111.6,470.7 L1112.6,471.1 L1113.6,471.4 L1114.6,471.7 L1115.6,472.1 L1116.6,472.4 L1117.6,472.7 L1118.6,473.0 L1119.6,473.3 L1120.6,473.6 L1121.6,473.9 L1122.6,474.2 L1123.6,474.5 L1124.6,474.8 L1125.6,475.1 L1126.6,475.4 L1127.6,475.6 L1128.6,475.9 L1129.6,476.2 L1130.6,476.4 L1131.6,476.7 L1132.6,476.9 L1133.6,477.2 L1134.6,477.4 L1135.6,477.6 L1136.6,477.9 L1137.6,478.1 L1138.6,478.3 L1139.6,478.6 L1140.6,478.8 L1141.6,479.0 L1142.6,479.2 L1143.6,479.4 L1144.6,479.6 L1145.6,479.8 L1146.6,480.0 L1147.6,480.2 L1148.6,480.4 L1149.6,480.6 L1150.6,480.8 L1151.6,481.0 L1152.6,481.1 L1153.6,481.3 L1154.6,481.5 L1155.6,481.6 L1156.6,481.8 L1157.6,482.0 L1158.6,482.1 L1159.6,482.3 L1160.6,482.4 L1161.6,482.6 L1162.6,482.8 L1163.6,482.9 L1164.6,483.0 L1165.6,483.2 L1166.6,483.3 L1167.6,483.5 L1168.6,483.6 L1169.6,483.7 L1170.6,483.9 L1171.6,484.0 L1172.6,484.1 L1173.6,484.2 L1174.6,484.4 L1175.6,484.5 L1176.6,484.6 L1177.6,484.7 L1178.6,484.8 L1179.6,484.9 L1180.6,485.1 L1181.6,485.2 L1182.6,485.3 L1183.6,485.4 L1184.6,485.5 L1185.6,485.6 L1186.6,485.7 L1187.6,485.8 L1188.6,485.9 L1189.6,486.0 L1190.6,486.1 L1191.6,486.2 L1192.6,486.3 L1193.6,486.4 L1194.6,486.5 L1195.6,486.6 L1196.6,486.7 L1197.6,486.8 L1198.6,486.8 L1199.6,486.9 L1200.6,487.0 L1201.6,487.1 L1202.6,487.2 L1203.6,487.3 L1204.6,487.4 L1205.6,487.5 L1206.6,487.6 L1207.6,487.6 L1208.6,487.7 L1209.6,487.8 L1210.6,487.9 L1211.6,488.0 L1212.6,488.1 L1213.6,488.1 L1214.6,488.2 L1215.6,488.3 L1216.6,488.4 L1217.6,488.4 L1218.6,488.5 L1219.6,488.6 L1220.6,488.7 L1221.6,488.8 L1222.6,488.8 L1223.6,488.9 L1224.6,489.0 L1225.6,489.1 L1226.6,489.1 L1227.6,489.2 L1228.6,489.3 L1229.6,489.3 L1230.6,489.4 L1231.6,489.5 L1232.6,489.6 L1233.6,489.6 L1234.6,489.7 L1235.6,489.8 L1236.6,489.8 L1237.6,489.9 L1238.6,490.0 L1239.6,490.0 L1240.6,490.1 L1241.6,490.2 L1242.6,490.2 L1243.6,490.3 L1244.6,490.3 L1245.6,490.4 L1246.6,490.5 L1247.6,490.5 L1248.6,490.6 L1249.6,490.6 L1250.6,490.7 L1251.6,490.8 L1252.6,490.8 L1253.6,490.9 L1254.6,490.9 L1255.6,491.0 L1256.6,491.0 L1257.6,491.1 L1258.6,491.2 L1259.6,491.2 L1260.6,491.3 L1261.6,491.3 L1262.6,491.4 L1263.6,491.4 L1264.6,491.5 L1265.6,491.5 L1266.6,491.6 L1267.6,491.6 L1268.6,491.7 L1269.6,491.7 L1270.6,491.8 L1271.6,491.8 L1272.6,491.9 L1273.6,491.9 L1274.6,492.0 L1275.6,492.0 L1276.6,492.1 L1277.6,492.1 L1278.6,492.2 L1279.6,492.2 L1280.6,492.2 L1281.6,492.3 L1282.6,492.3 L1283.6,492.4 L1284.6,492.4 L1285.6,492.5 L1286.6,492.5 L1287.6,492.5 L1288.6,492.6 L1289.6,492.6 L1290.6,492.7 L1291.6,492.7 L1292.6,492.8 L1293.6,492.8 L1294.6,492.8 L1295.6,492.9 L1296.6,492.9 L1297.6,492.9 L1298.6,493.0 L1299.6,493.0 L1300.6,493.1 L1301.6,493.1 L1302.6,493.1 L1303.6,493.2 L1304.6,493.2 L1305.6,493.2 L1306.6,493.3 L1307.6,493.3 L1308.6,493.3 L1309.6,493.4 L1310.6,493.4 L1311.6,493.4 L1312.6,493.5 L1313.6,493.5 L1314.6,493.5 L1315.6,493.5 L1316.6,493.6 L1317.6,493.6 L1318.6,493.6 L1319.6,493.7 L1320.6,493.7 L1321.6,493.7 L1322.6,493.8 L1323.6,493.8 L1324.6,493.8 L1325.6,493.8 L1326.6,493.9 L1327.6,493.9 L1328.6,493.9 L1329.6,493.9 L1330.6,494.0 L1331.6,494.0 L1332.6,494.0 L1333.6,494.0 L1334.6,494.1 L1335.6,494.1 L1336.6,494.1 L1337.6,494.1 L1338.6,494.2 L1339.6,494.2 L1340.6,494.2 L1341.6,494.2 L1342.6,494.3 L1343.6,494.3 L1344.6,494.3 L1345.6,494.3 L1346.6,494.3 L1347.6,494.4 L1348.6,494.4 L1349.6,494.4 L1350.6,494.4 L1351.6,494.4 L1352.6,494.5 L1353.6,494.5 L1354.6,494.5 L1355.6,494.5 L1356.6,494.5 L1357.6,494.6 L1358.6,494.6 L1359.6,494.6 L1360.6,494.6 L1361.6,494.6 L1362.6,494.6 L1363.6,494.7 L1364.6,494.7 L1365.6,494.7 L1366.6,494.7 L1367.6,494.7 L1368.6,494.7 L1369.6,494.8 L1370.6,494.8 L1371.6,494.8 L1372.6,494.8 L1373.6,494.8 L1374.6,494.8 L1375.6,494.8 L1376.6,494.9 L1377.6,494.9 L1378.6,494.9 L1379.6,494.9 L1380.6,494.9 L1381.6,494.9 L1382.6,494.9 L1383.6,495.0 L1384.6,495.0 L1385.6,495.0 L1386.6,495.0 L1387.6,495.0 L1388.6,495.0 L1389.6,495.0 L1390.6,495.0 L1391.6,495.1 L1392.6,495.1 L1393.6,495.1 L1394.6,495.1 L1395.6,495.1 L1396.6,495.1 L1397.6,495.1 L1398.6,495.1 L1399.6,495.2 L1400.6,495.2 L1401.6,495.2 L1402.6,495.2 L1403.6,495.2 L1404.6,495.2 L1405.6,495.2 L1406.6,495.2 L1407.6,495.2 L1408.6,495.3 L1409.6,495.3 L1410.6,495.3 L1411.6,495.3 L1412.6,495.3 L1413.6,495.3 L1414.6,495.3 L1415.6,495.3 L1416.6,495.3 L1417.6,495.3 L1418.6,495.4 L1419.6,495.4 L1420.6,495.4 L1421.6,495.4 L1422.6,495.4 L1423.6,495.4 L1424.6,495.4 L1425.6,495.4 L1426.6,495.4 L1427.6,495.4 L1428.6,495.4 L1429.6,495.5 L1430.6,495.5 L1431.6,495.5 L1432.6,495.5 L1433.6,495.5 L1434.6,495.5 L1435.6,495.5 L1436.6,495.5 L1437.6,495.5 L1438.6,495.5 L1439.6,495.5 L1440.6,495.6 L1441.6,495.6 L1442.6,495.6 L1443.6,495.6 L1444.6,495.6 L1445.6,495.6 L1446.6,495.6 L1447.6,495.6 L1448.6,495.6 L1449.6,495.6 L1450.6,495.6 L1451.6,495.7 L1452.6,495.7 L1453.6,495.7 L1454.6,495.7 L1455.6,495.7 L1456.6,495.7 L1457.6,495.7 L1458.6,495.7 L1459.6,495.7 L1460.6,495.7 L1461.6,495.7 L1462.6,495.8 L1463.6,495.8 L1464.6,495.8 L1465.6,495.8 L1466.6,495.8 L1467.6,495.8 L1468.6,495.8 L1469.6,495.8 L1470.6,495.8 L1471.6,495.8 L1472.6,495.9 L1473.6,495.9 L1474.6,495.9 L1475.6,495.9 L1476.6,495.9 L1477.6,495.9 L1478.6,495.9 L1479.6,495.9 L1480.6,495.9 L1481.6,496.0 L1482.6,496.0 L1483.6,496.0 L1484.6,496.0 L1485.6,496.0 L1486.6,496.0 L1487.6,496.0 L1488.6,496.0 L1489.6,496.1 L1490.6,496.1 L1491.6,496.1 L1492.6,496.1 L1493.6,496.1 L1494.6,496.1 L1495.6,496.1 L1496.6,496.1 L1497.6,496.2 L1498.6,496.2 L1499.6,496.2 L1500.6,496.2 L1501.6,496.2 L1502.6,496.2 L1503.6,496.2 L1504.6,496.3 L1505.6,496.3 L1506.6,496.3 L1507.6,496.3 L1508.6,496.3 L1509.6,496.3 L1510.6,496.4 L1511.6,496.4 L1512.6,496.4 L1513.5,496.4" fill="none" stroke="#000" stroke-width="4.2" stroke-linejoin="round"/>
<line x1="601.6" y1="618.5" x2="1513.6" y2="618.5" stroke="#0000ff" stroke-width="4.4"/>
<line x1="1095.3" y1="154.8" x2="1095.3" y2="257.8" stroke="#000" stroke-width="3.2" stroke-dasharray="10.5 7.9"/>
<line x1="981.0" y1="341.2" x2="981.0" y2="446.4" stroke="#000" stroke-width="3.2" stroke-dasharray="11.3 7.5"/>
<rect x="177.5" y="33" width="1408" height="1592" fill="none" stroke="#000" stroke-width="8.5"/>
<line x1="271.4" y1="1598" x2="271.4" y2="1622" stroke="#000" stroke-width="8.5"/>
<line x1="459.1" y1="1598" x2="459.1" y2="1622" stroke="#000" stroke-width="8.5"/>
<line x1="646.8" y1="1598" x2="646.8" y2="1622" stroke="#000" stroke-width="8.5"/>
<line x1="834.6" y1="1598" x2="834.6" y2="1622" stroke="#000" stroke-width="8.5"/>
<line x1="1022.3" y1="1598" x2="1022.3" y2="1622" stroke="#000" stroke-width="8.5"/>
<line x1="1210.0" y1="1598" x2="1210.0" y2="1622" stroke="#000" stroke-width="8.5"/>
<line x1="1397.7" y1="1598" x2="1397.7" y2="1622" stroke="#000" stroke-width="8.5"/>
<line x1="1585.5" y1="1598" x2="1585.5" y2="1622" stroke="#000" stroke-width="8.5"/>
<line x1="365.2" y1="1609" x2="365.2" y2="1622" stroke="#000" stroke-width="7"/>
<line x1="553.0" y1="1609" x2="553.0" y2="1622" stroke="#000" stroke-width="7"/>
<line x1="740.7" y1="1609" x2="740.7" y2="1622" stroke="#000" stroke-width="7"/>
<line x1="928.4" y1="1609" x2="928.4" y2="1622" stroke="#000" stroke-width="7"/>
<line x1="1116.2" y1="1609" x2="1116.2" y2="1622" stroke="#000" stroke-width="7"/>
<line x1="1303.9" y1="1609" x2="1303.9" y2="1622" stroke="#000" stroke-width="7"/>
<line x1="1491.6" y1="1609" x2="1491.6" y2="1622" stroke="#000" stroke-width="7"/>
<rect x="599.3" y="65.3" width="916.5" height="663.9" fill="none" stroke="#000" stroke-width="4.6"/>
<line x1="828.4" y1="713" x2="828.4" y2="728" stroke="#000" stroke-width="4.4"/>
<line x1="1057.5" y1="713" x2="1057.5" y2="728" stroke="#000" stroke-width="4.4"/>
<line x1="1286.6" y1="713" x2="1286.6" y2="728" stroke="#000" stroke-width="4.4"/>
<line x1="1515.7" y1="713" x2="1515.7" y2="728" stroke="#000" stroke-width="4.4"/>
<line x1="713.8" y1="720" x2="713.8" y2="728" stroke="#000" stroke-width="4.2"/>
<line x1="942.9" y1="720" x2="942.9" y2="728" stroke="#000" stroke-width="4.2"/>
<line x1="1172.0" y1="720" x2="1172.0" y2="728" stroke="#000" stroke-width="4.2"/>
<line x1="1401.2" y1="720" x2="1401.2" y2="728" stroke="#000" stroke-width="4.2"/>
<text x="209.90" y="1707.20" font-size="72.69" textLength="120.71" lengthAdjust="spacingAndGlyphs"><tspan font-family="NanumGothic, Liberation Sans, sans-serif" font-size="67.75" stroke="#000" stroke-width="1.45">1</tspan>00</text>
<text x="398.68" y="1707.20" font-size="74.12" textLength="121.12" lengthAdjust="spacingAndGlyphs">200</text>
<text x="587.60" y="1707.20" font-size="74.12" textLength="120.09" lengthAdjust="spacingAndGlyphs">300</text>
<text x="776.52" y="1707.20" font-size="74.12" textLength="119.14" lengthAdjust="spacingAndGlyphs">400</text>
<text x="962.44" y="1707.20" font-size="74.12" textLength="121.12" lengthAdjust="spacingAndGlyphs">500</text>
<text x="1150.36" y="1707.20" font-size="74.12" textLength="120.07" lengthAdjust="spacingAndGlyphs">600</text>
<text x="1337.50" y="1707.20" font-size="74.12" textLength="121.12" lengthAdjust="spacingAndGlyphs">700</text>
<text x="1525.30" y="1707.20" font-size="74.12" textLength="120.07" lengthAdjust="spacingAndGlyphs">800</text>
<text x="568.70" y="781.80" font-size="56.01" textLength="58.87" lengthAdjust="spacingAndGlyphs">90</text>
<text x="781.70" y="781.80" font-size="54.58" textLength="89.79" lengthAdjust="spacingAndGlyphs"><tspan font-family="NanumGothic, Liberation Sans, sans-serif" font-size="50.87" stroke="#000" stroke-width="1.09">1</tspan>00</text>
<text x="1010.10" y="781.80" font-size="54.58" textLength="91.35" lengthAdjust="spacingAndGlyphs"><tspan font-family="NanumGothic, Liberation Sans, sans-serif" font-size="50.87" stroke="#000" stroke-width="1.09">11</tspan>0</text>
<text x="1238.70" y="781.80" font-size="54.58" textLength="92.33" lengthAdjust="spacingAndGlyphs"><tspan font-family="NanumGothic, Liberation Sans, sans-serif" font-size="50.87" stroke="#000" stroke-width="1.09">1</tspan>20</text>
<text x="1469.50" y="781.80" font-size="54.58" textLength="90.11" lengthAdjust="spacingAndGlyphs"><tspan font-family="NanumGothic, Liberation Sans, sans-serif" font-size="50.87" stroke="#000" stroke-width="1.09">1</tspan>30</text>
<text x="540.90" y="1821.70" font-size="90.00" textLength="555.72" lengthAdjust="spacing">Temperature (</text>
<text x="1099.70" y="1772.80" font-size="53.15" textLength="28.74" lengthAdjust="spacingAndGlyphs">o</text>
<text x="1129.30" y="1821.70" font-size="90.00" textLength="93.67" lengthAdjust="spacing">C)</text>
<text transform="translate(109.00,1144.70) rotate(-90)" font-size="88.59" textLength="556.73" lengthAdjust="spacing">Intensity (a.u.)</text>
<text x="1015.00" y="983.00" font-size="60.66" textLength="519.43" lengthAdjust="spacing">3FeO<tspan font-size="42.46">x</tspan>-3Pt/MgFe<tspan font-size="42.46">2</tspan>O<tspan font-size="42.46">4</tspan></text>
<text x="1194.20" y="1286.80" font-size="58.82" textLength="339.62" lengthAdjust="spacing">3Pt/MgFe<tspan font-size="41.18">2</tspan>O<tspan font-size="41.18">4</tspan></text>
<text x="1301.30" y="1552.80" font-size="58.54" textLength="235.95" lengthAdjust="spacing">MgFe<tspan font-size="40.98">2</tspan>O<tspan font-size="40.98">4</tspan></text>
<text x="1078.80" y="321.70" font-size="46.41" textLength="419.12" lengthAdjust="spacing">3FeO<tspan font-size="35.74">x</tspan>-3Pt/MgFe<tspan font-size="35.74">2</tspan>O<tspan font-size="35.74">4</tspan></text>
<text x="1226.50" y="545.10" font-size="45.84" textLength="272.71" lengthAdjust="spacing">3Pt/MgFe<tspan font-size="35.30">2</tspan>O<tspan font-size="35.30">4</tspan></text>
<text x="1310.60" y="667.80" font-size="47.11" textLength="189.12" lengthAdjust="spacing">MgFe<tspan font-size="36.28">2</tspan>O<tspan font-size="36.28">4</tspan></text>
<text x="1058.10" y="152.10" font-size="45.73" textLength="70.51" lengthAdjust="spacingAndGlyphs"><tspan font-family="NanumGothic, Liberation Sans, sans-serif" font-size="42.62" stroke="#000" stroke-width="0.91">11</tspan>2</text>
<text x="1141.00" y="125.40" font-size="18.04" textLength="11.74" lengthAdjust="spacingAndGlyphs">o</text>
<text x="1154.00" y="152.10" font-size="46.16" textLength="28.74" lengthAdjust="spacingAndGlyphs">C</text>
<text x="938.10" y="337.50" font-size="42.00" textLength="70.56" lengthAdjust="spacingAndGlyphs"><tspan font-family="NanumGothic, Liberation Sans, sans-serif" font-size="39.14" stroke="#000" stroke-width="0.84">1</tspan>07</text>
<text x="1020.80" y="312.40" font-size="20.71" textLength="12.82" lengthAdjust="spacingAndGlyphs">o</text>
<text x="1034.00" y="339.20" font-size="44.90" textLength="27.69" lengthAdjust="spacingAndGlyphs">C</text>
</svg>
</body></html>
